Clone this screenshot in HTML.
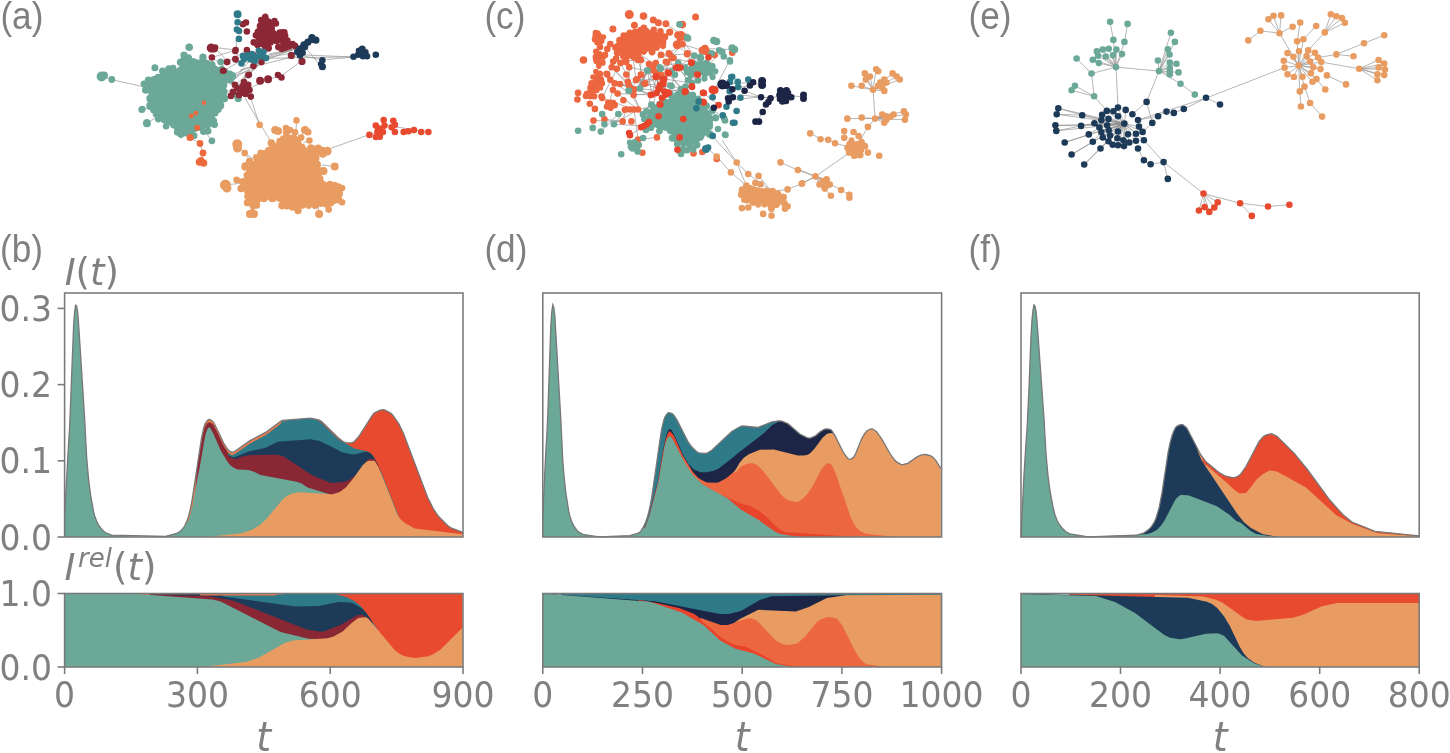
<!DOCTYPE html><html><head><meta charset="utf-8"><style>html,body{margin:0;padding:0;background:#fff;}svg{display:block}</style></head><body>
<svg width="1450" height="753" viewBox="0 0 1450 753">
<rect width="100%" height="100%" fill="#fff"/>
<g stroke="#8a8a8a" stroke-width="0.7" fill="none" opacity="0.9">
<path d="M114.0 80.2L140.3 86.0M329.6 148.7L367.8 135.2M245.0 98.0L260.0 124.0M260.0 124.0L270.0 140.0M326.4 59.5L353.5 57.1M305.0 55.0L353.0 57.0M211.9 57.5L235.6 50.1M223.6 70.7L246.9 57.4M240.0 64.0L300.0 48.0M250.0 66.0L305.0 45.0M236.0 40.0L237.0 55.0M222.0 80.0L250.0 70.0M235.0 100.0L247.0 75.0M233.0 90.0L262.0 62.0M280.0 77.0L300.0 62.0M215.0 47.5L236.0 50.0M227.0 62.0L247.0 50.0M230.0 76.0L256.0 64.0M265.0 58.0L297.0 52.0M238.0 96.0L246.0 72.0M266.3 58.3L354.5 56.8M269.3 53.8L299.2 47.8M245.4 89.7L281.3 74.7M228.0 92.0L262.0 60.0M230.0 85.0L250.0 60.0M226.0 100.0L258.0 64.0M232.0 80.0L270.0 56.0M240.0 70.0L300.0 55.0M236.0 62.0L292.0 50.0M215.0 47.5L226.0 60.0M211.9 57.5L224.0 66.0M300.0 55.0L322.0 60.0M303.0 45.0L321.0 66.0M259.6 124.9L250.0 96.0M237.3 144.2L250.0 160.0M226.0 185.0L242.0 183.0M244.7 153.1L255.0 160.0M305.0 130.1L300.0 137.0M309.4 140.5L303.0 143.0M334.7 166.5L322.0 165.0M323.5 171.0L318.0 168.0M342.1 188.1L332.0 186.0M342.1 202.2L334.0 198.0M319.1 214.1L318.0 205.0M328.7 209.6L322.0 203.0M249.9 214.1L252.0 205.0M296.5 120.4L296.0 131.0M101.6 76.5L111.8 79.5M141.8 109.4L150.0 108.0M146.9 123.3L155.0 118.0M211.9 140.8L206.0 133.0M190.1 137.5L200.0 143.5M200.0 143.5L203.0 153.0M203.0 153.0L201.0 161.0M197.3 127.7L190.1 137.5M369.4 134.9L377.0 132.0M384.0 125.0L428.4 132.0M1110.1 21.7L1113.4 39.9M1113.4 39.9L1116.0 67.1M1127.6 23.9L1124.4 41.9M1124.4 41.9L1116.0 67.1M1116.0 67.1L1096.8 51.4M1116.0 67.1L1102.8 49.6M1116.0 67.1L1108.7 48.8M1116.0 67.1L1116.4 49.6M1116.0 67.1L1122.0 54.1M1116.0 67.1L1113.0 55.2M1116.0 67.1L1105.8 56.5M1116.0 67.1L1098.1 55.8M1116.0 67.1L1092.8 59.8M1116.0 67.1L1098.8 63.1M1076.6 58.5L1091.5 73.5M1091.5 73.5L1116.0 67.1M1091.5 73.5L1094.1 96.3M1074.9 85.7L1094.1 96.3M1071.6 90.3L1094.1 96.3M1094.1 96.3L1106.8 110.9M1116.0 67.1L1118.0 107.6M1116.0 67.1L1159.0 71.1M1159.0 71.1L1170.9 32.8M1159.0 71.1L1174.9 41.9M1159.0 71.1L1167.8 49.2M1159.0 71.1L1169.6 54.5M1159.0 71.1L1157.9 60.5M1159.0 71.1L1169.8 62.5M1159.0 71.1L1176.5 63.8M1159.0 71.1L1169.8 68.4M1159.0 71.1L1169.8 74.4M1159.0 71.1L1178.5 72.4M1159.0 71.1L1180.5 83.7M1180.5 83.7L1194.8 94.6M1159.0 71.1L1146.6 101.9M1146.6 101.9L1132.4 114.3M1146.6 101.9L1152.3 122.9M1124.4 123.6L1058.3 108.3M1124.4 123.6L1056.7 114.3M1124.4 123.6L1082.2 115.2M1124.4 123.6L1055.4 125.3M1124.4 123.6L1056.3 130.9M1124.4 123.6L1081.1 125.9M1124.4 123.6L1064.7 142.5M1124.4 123.6L1088.8 134.4M1124.4 123.6L1092.8 141.7M1124.4 123.6L1071.6 154.5M1124.4 123.6L1100.5 148.5M1124.4 123.6L1084.2 164.5M1124.4 123.6L1094.4 123.2M1124.4 123.6L1102.1 114.9M1124.4 123.6L1106.8 110.9M1124.4 123.6L1113.4 111.2M1124.4 123.6L1118.0 107.6M1124.4 123.6L1125.7 109.9M1124.4 123.6L1118.0 116.2M1124.4 123.6L1108.5 118.9M1124.4 123.6L1101.4 120.2M1124.4 123.6L1107.2 125.3M1124.4 123.6L1099.4 127.5M1124.4 123.6L1108.7 130.2M1124.4 123.6L1118.0 131.5M1124.4 123.6L1101.4 132.2M1124.4 123.6L1110.1 135.5M1124.4 123.6L1102.8 137.5M1124.4 123.6L1117.4 138.2M1124.4 123.6L1123.4 140.2M1124.4 123.6L1128.0 134.2M1124.4 123.6L1108.5 141.2M1124.4 123.6L1112.7 144.8M1124.4 123.6L1118.0 145.2M1124.4 123.6L1124.0 146.1M1124.4 123.6L1129.3 142.5M1124.4 123.6L1136.0 140.8M1124.4 123.6L1136.0 133.8M1124.4 123.6L1142.6 131.9M1124.4 123.6L1143.9 140.2M1124.4 123.6L1139.0 126.6M1058.3 108.3L1082.2 115.2M1056.7 114.3L1082.2 115.2M1082.2 115.2L1101.4 120.2M1055.4 125.3L1081.1 125.9M1056.3 130.9L1081.1 125.9M1081.1 125.9L1094.4 123.2M1064.7 142.5L1088.8 134.4M1088.8 134.4L1099.4 127.5M1071.6 154.5L1092.8 141.7M1092.8 141.7L1101.4 132.2M1084.2 164.5L1100.5 148.5M1100.5 148.5L1108.5 141.2M1138.0 120.0L1158.1 116.2M1158.1 116.2L1166.5 111.6M1166.5 111.6L1173.8 112.9M1173.8 112.9L1183.8 109.0M1183.8 109.0L1206.6 97.9M1206.6 97.9L1220.0 104.5M1138.0 120.0L1206.6 97.9M1206.6 97.9L1284.6 67.6M1152.3 122.9L1142.6 131.9M1143.9 140.2L1163.6 162.1M1138.0 148.5L1143.9 160.3M1143.9 160.3L1150.6 164.3M1150.6 164.3L1163.6 162.1M1163.6 162.1L1167.8 178.9M1163.6 162.1L1203.5 193.6M1203.5 193.6L1217.7 202.3M1203.5 193.6L1214.3 207.5M1203.5 193.6L1204.6 207.1M1203.5 193.6L1198.9 210.5M1203.5 193.6L1209.3 211.9M1203.5 193.6L1240.1 203.2M1240.1 203.2L1268.0 206.5M1268.0 206.5L1289.4 204.8M1240.1 203.2L1251.8 215.9M1298.6 65.6L1287.5 53.1M1298.6 65.6L1299.0 51.2M1298.6 65.6L1308.2 50.4M1298.6 65.6L1314.9 52.8M1298.6 65.6L1306.6 56.0M1298.6 65.6L1318.1 57.6M1298.6 65.6L1293.4 56.8M1298.6 65.6L1283.8 60.8M1298.6 65.6L1321.3 62.1M1298.6 65.6L1310.1 61.6M1298.6 65.6L1284.6 67.6M1298.6 65.6L1313.3 67.2M1298.6 65.6L1320.5 69.1M1298.6 65.6L1310.9 73.2M1298.6 65.6L1287.5 74.3M1298.6 65.6L1293.9 77.0M1298.6 65.6L1302.5 76.7M1298.6 65.6L1316.5 79.1M1298.6 65.6L1312.5 81.8M1298.6 65.6L1304.5 86.6M1298.6 65.6L1299.8 91.4M1298.6 65.6L1297.1 41.3M1298.6 65.6L1303.4 39.3M1298.6 65.6L1279.5 33.2M1248.3 40.4L1260.4 30.8M1260.4 30.8L1279.5 33.2M1268.4 19.3L1279.5 33.2M1273.5 15.8L1279.5 33.2M1281.1 15.4L1279.5 33.2M1279.5 33.2L1292.6 26.8M1300.2 22.5L1297.1 41.3M1316.2 26.0L1303.4 39.3M1324.8 32.4L1308.2 50.4M1324.8 32.4L1330.8 14.2M1324.8 32.4L1336.4 16.2M1324.8 32.4L1342.0 18.1M1324.8 32.4L1344.9 22.8M1384.2 35.3L1364.0 43.2M1364.0 43.2L1336.4 54.4M1336.4 54.4L1318.1 57.6M1336.4 54.4L1353.5 56.3M1321.3 62.1L1359.2 68.7M1326.9 75.4L1346.0 84.4M1316.5 79.1L1325.3 89.5M1299.8 91.4L1300.9 106.5M1304.5 86.6L1310.1 103.0M1310.1 103.0L1322.1 116.6M1359.2 68.7L1378.6 60.0M1359.2 68.7L1384.2 63.6M1359.2 68.7L1385.0 69.5M1359.2 68.7L1378.6 67.5M1359.2 68.7L1384.2 75.1M1359.2 68.7L1377.4 74.3M1359.2 68.7L1377.4 80.2M716.7 156.6L730.9 172.4M730.9 172.4L746.4 185.6M736.7 162.6L748.3 174.0M748.3 174.0L771.5 191.3M736.7 162.6L746.4 185.6M771.5 191.3L787.6 189.4M787.6 189.4L801.8 183.6M801.8 183.6L815.3 176.5M780.5 162.4L797.9 170.1M797.9 170.1L815.3 176.5M815.3 176.5L855.5 148.5M855.5 148.5L835.0 143.3M835.0 143.3L828.8 139.2M828.8 139.2L820.6 139.2M820.6 139.2L810.3 133.0M855.5 148.5L867.9 126.9M867.9 126.9L875.1 118.6M875.1 118.6L873.0 89.8M875.1 118.6L847.3 118.6M736.7 162.6L712.0 136.0M716.7 156.6L705.0 146.0M722.0 140.0L736.7 162.6M758.6 175.9L771.5 191.3M722.3 84.4L753.1 82.3M744.6 90.8L761.1 97.2M761.1 97.2L770.6 98.2M770.6 98.2L783.9 95.0M783.9 95.0L803.5 97.0M768.5 101.9L762.7 112.0M762.7 112.0L757.3 121.6M732.0 89.0L762.0 83.0M740.0 95.0L770.0 98.0M730.0 100.0L760.0 97.0M873.0 89.8L864.8 73.4M873.0 89.8L876.1 69.3M873.0 89.8L869.9 76.5M873.0 89.8L865.8 79.5M873.0 89.8L851.4 85.7M873.0 89.8L861.7 85.7M873.0 89.8L880.2 82.6M873.0 89.8L884.3 79.5M873.0 89.8L886.4 82.6M873.0 89.8L882.3 87.8M873.0 89.8L884.3 90.9M873.0 89.8L892.6 73.4M873.0 89.8L896.7 76.5M873.0 89.8L899.8 79.5M875.1 118.6L882.3 114.5M875.1 118.6L886.4 119.7M875.1 118.6L884.3 122.7M875.1 118.6L890.5 116.6M875.1 118.6L893.6 114.5M875.1 118.6L903.9 111.4M875.1 118.6L905.9 114.5M875.1 118.6L904.9 119.7M875.1 118.6L861.7 117.6M815.4 176.2L822.6 181.4M815.4 176.2L819.5 184.5M815.4 176.2L826.7 179.3M815.4 176.2L829.8 184.5M815.4 176.2L824.7 188.6M815.4 176.2L841.1 190.0M815.4 176.2L802.1 183.4M815.4 176.2L800.0 170.0M841.1 190.0L849.4 194.7M824.7 188.6L830.9 195.8M633.6 95.1L629.2 86.3M659.9 104.5L685.6 91.6M629.2 86.3L611.7 67.3M678.0 67.2L688.0 80.2M684.5 37.0L665.9 23.7M633.6 95.1L650.8 66.8M664.2 91.6L639.8 88.5M620.0 84.0L640.0 88.3M673.5 58.0L697.2 74.6M687.1 54.2L677.3 44.8M613.9 124.3L626.0 109.5M622.7 121.4L604.4 119.2M657.1 74.4L647.5 71.0M691.8 86.4L691.3 62.9M622.7 121.4L626.0 109.5M602.2 98.0L634.0 109.5M668.8 53.4L674.9 74.8M707.0 52.0L691.7 62.6M659.7 88.5L656.3 76.8M647.4 70.2L662.0 98.0M633.6 95.1L614.6 83.4M656.3 76.8L652.0 94.7M622.7 121.4L593.5 120.6M679.2 68.1L691.8 86.4M640.9 60.0L613.2 61.5M641.3 74.8L640.2 88.5M636.0 80.0L632.2 49.8M656.6 71.8L644.4 84.0M665.0 95.0L660.0 85.0M638.0 109.5L660.4 104.6M668.8 53.4L682.6 44.3M650.8 94.9L644.0 126.0M692.0 83.0L664.3 79.0M668.8 73.3L645.3 83.4M647.0 70.6L656.6 71.8M692.0 83.0L684.9 92.1M665.0 95.0L650.8 66.8M661.2 55.0L691.2 62.4M687.1 54.2L660.9 54.9M662.7 79.4L636.0 80.0M649.0 64.1L659.7 67.2M684.8 91.4L658.5 89.2M678.2 62.9L659.7 67.2M645.9 130.0L660.4 104.6M660.0 85.0L644.4 84.0M646.8 124.3L633.6 95.1M668.7 92.9L678.0 67.2M630.0 135.2L646.8 124.3M685.5 86.5L668.7 92.9M613.0 90.0L608.8 103.8M600.8 131.6L618.3 114.0M650.8 94.9L658.5 89.2M703.0 92.9L718.6 105.1M684.8 91.4L697.2 74.6M629.1 90.8L642.9 114.4M660.0 85.0L665.0 95.0M657.1 74.4L659.9 104.5M653.5 65.6L665.9 92.1M620.5 63.0L634.3 89.2M655.8 76.9L680.5 67.5M640.9 60.0L640.2 88.5M638.0 109.5L613.9 124.3M653.3 70.6L680.5 67.5M679.2 68.1L671.9 71.8M685.6 91.6L703.7 102.4M668.8 73.3L659.7 88.5M665.9 61.8L688.0 38.4M697.8 74.8L711.6 53.4M620.0 84.0L652.0 94.7M620.0 84.0L634.3 89.2M634.3 89.2L611.7 67.3M632.2 49.8L650.8 66.8M665.9 92.1L647.4 70.2M638.0 60.0L645.3 83.4M691.2 62.4L697.8 74.8M629.2 67.3L647.5 71.0M640.0 88.3L656.6 71.8M647.4 70.2L633.6 95.1M678.0 67.2L697.2 74.6M629.2 86.3L629.2 67.3M639.8 88.5L614.6 83.4M644.4 84.0L658.4 88.3M645.3 83.4L627.8 81.9M705.0 48.5L691.2 62.4M634.3 89.2L652.0 94.7M607.3 74.6L611.7 67.3M697.2 74.6L722.3 51.9M638.0 109.5L613.0 90.0M639.8 88.5L647.5 71.0M656.6 93.1L633.6 95.1M677.5 68.0L662.7 79.4M658.4 88.3L671.0 85.8M692.0 83.0L691.2 62.4M682.6 44.3L697.2 74.6M616.8 68.8L602.2 98.0M667.8 72.5L684.8 91.4M651.2 95.0L617.6 93.6M655.8 76.9L652.6 65.8M667.2 62.2L656.3 76.8M698.0 80.5L678.2 62.9M676.0 67.5L660.2 68.7M694.3 55.5L680.0 37.5M669.7 54.2L663.4 83.9M652.0 94.7L647.5 71.0M691.7 62.6L667.8 72.5M681.0 89.0L667.8 72.5M646.8 124.3L656.6 93.1M650.8 66.8L656.3 76.8M677.5 68.0L691.7 62.6M629.1 90.8L641.3 74.8M657.0 137.4L638.0 139.6M724.2 118.4L703.2 101.9M650.8 66.8L633.6 95.1M657.1 74.4L668.7 92.9M634.0 109.5L638.0 139.6M632.2 49.8L659.7 67.2M684.9 92.1L663.4 80.1M682.6 44.3L711.6 53.4M659.7 67.2L665.8 94.7M694.3 55.5L671.9 71.8M613.9 124.3L644.0 126.0M661.2 55.0L652.6 65.8M714.0 89.9L729.9 60.3M705.0 48.5L734.5 49.6"/>
</g>
<path fill="#6BA898" d="M183.9 57.9L193.7 59.5L202.2 59.4L213.5 63.5L217.8 67.6L226.5 71.7L235.1 75.2L233.0 79.0L226.1 84.6L224.6 91.6L224.6 98.6L221.8 105.7L216.0 113.9L213.5 121.1L209.3 127.0L200.9 129.7L193.8 132.7L185.3 135.7L176.8 132.8L172.6 126.9L162.7 121.2L155.6 114.2L149.8 105.8L148.4 98.7L148.4 90.2L145.3 84.5L148.3 80.2L157.2 77.6L162.9 71.4L168.7 69.5L174.5 70.4L181.3 64.7Z"/>
<path fill="#6BA898" d="M180.8 58.6a3.3 3.3 0 1 0 6.5 0a3.3 3.3 0 1 0 -6.5 0M185.5 58.1a3.3 3.3 0 1 0 6.5 0a3.3 3.3 0 1 0 -6.5 0M190.0 62.1a3.5 3.5 0 1 0 6.9 0a3.5 3.5 0 1 0 -6.9 0M199.3 57.3a3.7 3.7 0 1 0 7.4 0a3.7 3.7 0 1 0 -7.4 0M203.8 62.9a3.2 3.2 0 1 0 6.4 0a3.2 3.2 0 1 0 -6.4 0M208.8 65.1a3.4 3.4 0 1 0 6.7 0a3.4 3.4 0 1 0 -6.7 0M211.8 69.7a3.7 3.7 0 1 0 7.5 0a3.7 3.7 0 1 0 -7.5 0M218.2 69.9a3.6 3.6 0 1 0 7.1 0a3.6 3.6 0 1 0 -7.1 0M221.9 72.3a3.5 3.5 0 1 0 7.1 0a3.5 3.5 0 1 0 -7.1 0M226.5 73.9a3.3 3.3 0 1 0 6.7 0a3.3 3.3 0 1 0 -6.7 0M229.4 76.1a3.4 3.4 0 1 0 6.7 0a3.4 3.4 0 1 0 -6.7 0M226.6 79.9a3.6 3.6 0 1 0 7.2 0a3.6 3.6 0 1 0 -7.2 0M219.9 85.2a3.7 3.7 0 1 0 7.4 0a3.7 3.7 0 1 0 -7.4 0M220.4 91.7a3.6 3.6 0 1 0 7.3 0a3.6 3.6 0 1 0 -7.3 0M220.7 98.6a3.8 3.8 0 1 0 7.6 0a3.8 3.8 0 1 0 -7.6 0M217.3 105.3a3.5 3.5 0 1 0 6.9 0a3.5 3.5 0 1 0 -6.9 0M214.4 109.3a3.7 3.7 0 1 0 7.4 0a3.7 3.7 0 1 0 -7.4 0M212.0 113.3a3.2 3.2 0 1 0 6.5 0a3.2 3.2 0 1 0 -6.5 0M209.7 121.0a3.7 3.7 0 1 0 7.4 0a3.7 3.7 0 1 0 -7.4 0M204.4 124.6a3.6 3.6 0 1 0 7.2 0a3.6 3.6 0 1 0 -7.2 0M196.4 126.9a3.7 3.7 0 1 0 7.4 0a3.7 3.7 0 1 0 -7.4 0M190.7 135.7a3.4 3.4 0 1 0 6.8 0a3.4 3.4 0 1 0 -6.8 0M186.2 131.0a3.4 3.4 0 1 0 6.8 0a3.4 3.4 0 1 0 -6.8 0M182.1 133.1a3.5 3.5 0 1 0 7.0 0a3.5 3.5 0 1 0 -7.0 0M177.8 134.5a3.2 3.2 0 1 0 6.3 0a3.2 3.2 0 1 0 -6.3 0M173.9 132.0a3.2 3.2 0 1 0 6.3 0a3.2 3.2 0 1 0 -6.3 0M170.0 124.7a3.8 3.8 0 1 0 7.6 0a3.8 3.8 0 1 0 -7.6 0M162.8 126.2a3.3 3.3 0 1 0 6.6 0a3.3 3.3 0 1 0 -6.6 0M160.6 119.7a3.6 3.6 0 1 0 7.2 0a3.6 3.6 0 1 0 -7.2 0M154.9 118.5a3.4 3.4 0 1 0 6.7 0a3.4 3.4 0 1 0 -6.7 0M152.7 113.9a3.5 3.5 0 1 0 7.0 0a3.5 3.5 0 1 0 -7.0 0M150.2 109.5a3.8 3.8 0 1 0 7.5 0a3.8 3.8 0 1 0 -7.5 0M146.3 105.8a3.7 3.7 0 1 0 7.3 0a3.7 3.7 0 1 0 -7.3 0M146.4 98.5a3.3 3.3 0 1 0 6.5 0a3.3 3.3 0 1 0 -6.5 0M142.0 90.0a3.8 3.8 0 1 0 7.6 0a3.8 3.8 0 1 0 -7.6 0M140.6 84.2a3.2 3.2 0 1 0 6.3 0a3.2 3.2 0 1 0 -6.3 0M144.7 80.3a3.7 3.7 0 1 0 7.4 0a3.7 3.7 0 1 0 -7.4 0M150.6 79.3a3.3 3.3 0 1 0 6.6 0a3.3 3.3 0 1 0 -6.6 0M154.5 77.9a3.6 3.6 0 1 0 7.1 0a3.6 3.6 0 1 0 -7.1 0M159.0 71.0a3.5 3.5 0 1 0 7.0 0a3.5 3.5 0 1 0 -7.0 0M165.2 69.4a3.5 3.5 0 1 0 6.9 0a3.5 3.5 0 1 0 -6.9 0M169.6 68.3a3.4 3.4 0 1 0 6.9 0a3.4 3.4 0 1 0 -6.9 0M176.8 62.2a3.8 3.8 0 1 0 7.6 0a3.8 3.8 0 1 0 -7.6 0M96.6 76.5a5.0 5.0 0 1 0 10.0 0a5.0 5.0 0 1 0 -10.0 0M100.0 75.5a4.0 4.0 0 1 0 8.0 0a4.0 4.0 0 1 0 -8.0 0M108.4 79.5a3.4 3.4 0 1 0 6.8 0a3.4 3.4 0 1 0 -6.8 0M185.4 47.3a3.8 3.8 0 1 0 7.6 0a3.8 3.8 0 1 0 -7.6 0M180.4 55.0a3.6 3.6 0 1 0 7.2 0a3.6 3.6 0 1 0 -7.2 0M217.3 61.9a3.4 3.4 0 1 0 6.8 0a3.4 3.4 0 1 0 -6.8 0M151.4 67.8a3.5 3.5 0 1 0 7.0 0a3.5 3.5 0 1 0 -7.0 0M138.3 109.4a3.5 3.5 0 1 0 7.0 0a3.5 3.5 0 1 0 -7.0 0M142.9 123.3a4.0 4.0 0 1 0 8.0 0a4.0 4.0 0 1 0 -8.0 0M208.5 140.8a3.4 3.4 0 1 0 6.8 0a3.4 3.4 0 1 0 -6.8 0M234.6 98.4a3.6 3.6 0 1 0 7.2 0a3.6 3.6 0 1 0 -7.2 0M200.0 131.5a3.6 3.6 0 1 0 7.2 0a3.6 3.6 0 1 0 -7.2 0M204.5 131.0a3.5 3.5 0 1 0 7.0 0a3.5 3.5 0 1 0 -7.0 0M233.1 95.0a3.4 3.4 0 1 0 6.8 0a3.4 3.4 0 1 0 -6.8 0M138.9 109.1a3.4 3.4 0 1 0 6.8 0a3.4 3.4 0 1 0 -6.8 0M143.2 122.5a3.6 3.6 0 1 0 7.2 0a3.6 3.6 0 1 0 -7.2 0M211.0 124.5a3.5 3.5 0 1 0 7.0 0a3.5 3.5 0 1 0 -7.0 0"/>
<path fill="#EE6A3C" d="M201.7 102.8a2.2 2.2 0 1 0 4.4 0a2.2 2.2 0 1 0 -4.4 0M193.4 113.1a2.4 2.4 0 1 0 4.8 0a2.4 2.4 0 1 0 -4.8 0M189.0 116.0a2.4 2.4 0 1 0 4.8 0a2.4 2.4 0 1 0 -4.8 0M194.3 127.7a3.0 3.0 0 1 0 6.0 0a3.0 3.0 0 1 0 -6.0 0M186.5 137.5a3.6 3.6 0 1 0 7.2 0a3.6 3.6 0 1 0 -7.2 0M196.6 143.5a3.4 3.4 0 1 0 6.8 0a3.4 3.4 0 1 0 -6.8 0M199.6 153.0a3.4 3.4 0 1 0 6.8 0a3.4 3.4 0 1 0 -6.8 0M195.7 162.0a3.8 3.8 0 1 0 7.6 0a3.8 3.8 0 1 0 -7.6 0M199.7 163.0a3.8 3.8 0 1 0 7.6 0a3.8 3.8 0 1 0 -7.6 0M197.6 160.5a3.4 3.4 0 1 0 6.8 0a3.4 3.4 0 1 0 -6.8 0"/>
<path fill="#E99C61" d="M271.8 143.8L280.0 141.9L286.8 135.4L295.1 133.9L300.4 139.9L303.0 145.6L309.7 149.7L316.8 149.4L325.3 152.6L316.5 157.8L317.6 164.6L321.9 171.3L321.9 179.3L328.0 183.5L338.4 186.5L340.2 200.7L331.5 203.3L319.8 202.9L308.7 205.3L297.8 209.5L286.9 206.5L278.8 199.4L266.4 197.1L257.4 204.5L253.0 211.9L247.5 196.3L243.3 187.9L244.9 175.3L247.8 167.0L256.6 157.4L259.2 151.8L266.4 149.4Z"/>
<path fill="#E99C61" d="M267.5 143.1a3.8 3.8 0 1 0 7.6 0a3.8 3.8 0 1 0 -7.6 0M276.2 141.6a3.7 3.7 0 1 0 7.5 0a3.7 3.7 0 1 0 -7.5 0M280.0 138.8a3.4 3.4 0 1 0 6.9 0a3.4 3.4 0 1 0 -6.9 0M282.8 132.6a3.6 3.6 0 1 0 7.2 0a3.6 3.6 0 1 0 -7.2 0M292.0 132.2a3.2 3.2 0 1 0 6.4 0a3.2 3.2 0 1 0 -6.4 0M297.6 137.6a3.4 3.4 0 1 0 6.9 0a3.4 3.4 0 1 0 -6.9 0M299.1 147.3a3.2 3.2 0 1 0 6.5 0a3.2 3.2 0 1 0 -6.5 0M307.0 148.2a3.8 3.8 0 1 0 7.7 0a3.8 3.8 0 1 0 -7.7 0M314.5 148.1a3.7 3.7 0 1 0 7.4 0a3.7 3.7 0 1 0 -7.4 0M319.3 149.9a3.2 3.2 0 1 0 6.4 0a3.2 3.2 0 1 0 -6.4 0M323.8 151.2a3.8 3.8 0 1 0 7.5 0a3.8 3.8 0 1 0 -7.5 0M319.1 153.9a3.8 3.8 0 1 0 7.6 0a3.8 3.8 0 1 0 -7.6 0M312.9 158.0a3.3 3.3 0 1 0 6.6 0a3.3 3.3 0 1 0 -6.6 0M313.4 164.7a3.8 3.8 0 1 0 7.5 0a3.8 3.8 0 1 0 -7.5 0M317.6 171.3a3.7 3.7 0 1 0 7.4 0a3.7 3.7 0 1 0 -7.4 0M315.9 178.9a3.8 3.8 0 1 0 7.6 0a3.8 3.8 0 1 0 -7.6 0M326.6 184.0a3.2 3.2 0 1 0 6.5 0a3.2 3.2 0 1 0 -6.5 0M331.0 185.4a3.6 3.6 0 1 0 7.2 0a3.6 3.6 0 1 0 -7.2 0M335.3 186.5a3.2 3.2 0 1 0 6.4 0a3.2 3.2 0 1 0 -6.4 0M336.4 193.7a3.3 3.3 0 1 0 6.5 0a3.3 3.3 0 1 0 -6.5 0M334.7 199.8a3.8 3.8 0 1 0 7.6 0a3.8 3.8 0 1 0 -7.6 0M330.7 200.8a3.2 3.2 0 1 0 6.5 0a3.2 3.2 0 1 0 -6.5 0M327.2 202.8a3.6 3.6 0 1 0 7.2 0a3.6 3.6 0 1 0 -7.2 0M322.0 203.2a3.8 3.8 0 1 0 7.5 0a3.8 3.8 0 1 0 -7.5 0M317.5 203.8a3.2 3.2 0 1 0 6.4 0a3.2 3.2 0 1 0 -6.4 0M311.7 205.4a3.5 3.5 0 1 0 7.1 0a3.5 3.5 0 1 0 -7.1 0M305.6 205.3a3.2 3.2 0 1 0 6.3 0a3.2 3.2 0 1 0 -6.3 0M299.3 205.5a3.3 3.3 0 1 0 6.6 0a3.3 3.3 0 1 0 -6.6 0M294.3 210.6a3.7 3.7 0 1 0 7.4 0a3.7 3.7 0 1 0 -7.4 0M289.2 207.6a3.2 3.2 0 1 0 6.4 0a3.2 3.2 0 1 0 -6.4 0M283.5 205.9a3.5 3.5 0 1 0 7.0 0a3.5 3.5 0 1 0 -7.0 0M278.2 205.6a3.8 3.8 0 1 0 7.6 0a3.8 3.8 0 1 0 -7.6 0M275.9 198.4a3.4 3.4 0 1 0 6.9 0a3.4 3.4 0 1 0 -6.9 0M268.6 198.5a3.8 3.8 0 1 0 7.7 0a3.8 3.8 0 1 0 -7.7 0M262.4 197.8a3.2 3.2 0 1 0 6.4 0a3.2 3.2 0 1 0 -6.4 0M260.7 199.0a3.2 3.2 0 1 0 6.5 0a3.2 3.2 0 1 0 -6.5 0M253.0 205.2a3.6 3.6 0 1 0 7.2 0a3.6 3.6 0 1 0 -7.2 0M248.1 213.0a3.7 3.7 0 1 0 7.4 0a3.7 3.7 0 1 0 -7.4 0M249.5 205.2a3.5 3.5 0 1 0 6.9 0a3.5 3.5 0 1 0 -6.9 0M243.8 202.7a3.6 3.6 0 1 0 7.3 0a3.6 3.6 0 1 0 -7.3 0M244.3 196.2a3.4 3.4 0 1 0 6.7 0a3.4 3.4 0 1 0 -6.7 0M244.0 191.2a3.7 3.7 0 1 0 7.4 0a3.7 3.7 0 1 0 -7.4 0M237.4 188.5a3.7 3.7 0 1 0 7.5 0a3.7 3.7 0 1 0 -7.5 0M239.0 181.8a3.8 3.8 0 1 0 7.6 0a3.8 3.8 0 1 0 -7.6 0M243.5 175.2a3.6 3.6 0 1 0 7.2 0a3.6 3.6 0 1 0 -7.2 0M241.4 166.5a3.7 3.7 0 1 0 7.3 0a3.7 3.7 0 1 0 -7.3 0M245.8 161.4a3.7 3.7 0 1 0 7.4 0a3.7 3.7 0 1 0 -7.4 0M253.0 157.3a3.2 3.2 0 1 0 6.4 0a3.2 3.2 0 1 0 -6.4 0M257.4 152.9a3.4 3.4 0 1 0 6.8 0a3.4 3.4 0 1 0 -6.8 0M264.8 151.1a3.4 3.4 0 1 0 6.7 0a3.4 3.4 0 1 0 -6.7 0M293.2 120.4a3.3 3.3 0 1 0 6.6 0a3.3 3.3 0 1 0 -6.6 0M256.3 124.9a3.3 3.3 0 1 0 6.6 0a3.3 3.3 0 1 0 -6.6 0M271.2 130.1a4.0 4.0 0 1 0 8.0 0a4.0 4.0 0 1 0 -8.0 0M274.0 131.0a4.0 4.0 0 1 0 8.0 0a4.0 4.0 0 1 0 -8.0 0M232.3 144.2a5.0 5.0 0 1 0 10.0 0a5.0 5.0 0 1 0 -10.0 0M233.0 148.0a4.5 4.5 0 1 0 9.0 0a4.5 4.5 0 1 0 -9.0 0M241.4 153.1a3.3 3.3 0 1 0 6.6 0a3.3 3.3 0 1 0 -6.6 0M301.0 130.1a4.0 4.0 0 1 0 8.0 0a4.0 4.0 0 1 0 -8.0 0M304.4 132.0a3.6 3.6 0 1 0 7.2 0a3.6 3.6 0 1 0 -7.2 0M306.1 140.5a3.3 3.3 0 1 0 6.6 0a3.3 3.3 0 1 0 -6.6 0M330.7 166.5a4.0 4.0 0 1 0 8.0 0a4.0 4.0 0 1 0 -8.0 0M319.5 171.0a4.0 4.0 0 1 0 8.0 0a4.0 4.0 0 1 0 -8.0 0M219.9 185.1a5.5 5.5 0 1 0 11.0 0a5.5 5.5 0 1 0 -11.0 0M222.5 188.0a4.5 4.5 0 1 0 9.0 0a4.5 4.5 0 1 0 -9.0 0M233.3 179.9a3.3 3.3 0 1 0 6.6 0a3.3 3.3 0 1 0 -6.6 0M245.9 214.1a4.0 4.0 0 1 0 8.0 0a4.0 4.0 0 1 0 -8.0 0M250.0 214.0a4.0 4.0 0 1 0 8.0 0a4.0 4.0 0 1 0 -8.0 0M315.1 214.1a4.0 4.0 0 1 0 8.0 0a4.0 4.0 0 1 0 -8.0 0M325.4 209.6a3.3 3.3 0 1 0 6.6 0a3.3 3.3 0 1 0 -6.6 0M338.8 188.1a3.3 3.3 0 1 0 6.6 0a3.3 3.3 0 1 0 -6.6 0M338.8 202.2a3.3 3.3 0 1 0 6.6 0a3.3 3.3 0 1 0 -6.6 0M282.7 128.0a3.3 3.3 0 1 0 6.6 0a3.3 3.3 0 1 0 -6.6 0M286.7 130.0a3.3 3.3 0 1 0 6.6 0a3.3 3.3 0 1 0 -6.6 0M324.4 151.0a3.6 3.6 0 1 0 7.2 0a3.6 3.6 0 1 0 -7.2 0M311.7 149.0a3.3 3.3 0 1 0 6.6 0a3.3 3.3 0 1 0 -6.6 0"/>
<path fill="#8C2836" d="M260.8 18.8L265.3 18.5L268.7 20.8L274.1 21.5L275.4 24.1L273.4 27.3L269.6 28.9L268.4 31.2L270.5 33.3L273.1 35.2L274.7 39.2L271.8 40.9L271.1 44.3L268.3 48.2L265.3 45.2L262.0 43.1L258.5 43.4L256.1 40.4L254.4 35.5L256.8 32.2L260.6 29.4L259.4 25.3L260.6 22.3ZM279.0 31.5L282.0 31.0L284.0 33.0L284.8 35.6L285.1 38.9L284.0 41.8L281.7 40.5L281.3 36.8L279.9 35.0Z"/>
<path fill="#8C2836" d="M257.9 20.1a3.4 3.4 0 1 0 6.8 0a3.4 3.4 0 1 0 -6.8 0M261.9 17.6a3.4 3.4 0 1 0 6.7 0a3.4 3.4 0 1 0 -6.7 0M265.4 21.5a3.1 3.1 0 1 0 6.3 0a3.1 3.1 0 1 0 -6.3 0M271.4 20.9a3.1 3.1 0 1 0 6.3 0a3.1 3.1 0 1 0 -6.3 0M272.8 23.5a3.2 3.2 0 1 0 6.4 0a3.2 3.2 0 1 0 -6.4 0M268.8 28.4a3.1 3.1 0 1 0 6.2 0a3.1 3.1 0 1 0 -6.2 0M265.9 29.1a3.5 3.5 0 1 0 7.1 0a3.5 3.5 0 1 0 -7.1 0M263.2 32.4a3.1 3.1 0 1 0 6.2 0a3.1 3.1 0 1 0 -6.2 0M270.1 33.8a3.4 3.4 0 1 0 6.7 0a3.4 3.4 0 1 0 -6.7 0M271.3 35.7a3.3 3.3 0 1 0 6.6 0a3.3 3.3 0 1 0 -6.6 0M272.6 40.4a3.7 3.7 0 1 0 7.4 0a3.7 3.7 0 1 0 -7.4 0M267.4 39.1a3.2 3.2 0 1 0 6.4 0a3.2 3.2 0 1 0 -6.4 0M266.7 42.3a3.5 3.5 0 1 0 7.1 0a3.5 3.5 0 1 0 -7.1 0M264.6 48.1a3.7 3.7 0 1 0 7.4 0a3.7 3.7 0 1 0 -7.4 0M261.7 46.0a3.6 3.6 0 1 0 7.1 0a3.6 3.6 0 1 0 -7.1 0M258.5 43.7a3.3 3.3 0 1 0 6.6 0a3.3 3.3 0 1 0 -6.6 0M254.2 44.9a3.2 3.2 0 1 0 6.5 0a3.2 3.2 0 1 0 -6.5 0M250.4 42.3a3.4 3.4 0 1 0 6.8 0a3.4 3.4 0 1 0 -6.8 0M252.6 35.2a3.2 3.2 0 1 0 6.4 0a3.2 3.2 0 1 0 -6.4 0M254.6 32.2a3.4 3.4 0 1 0 6.7 0a3.4 3.4 0 1 0 -6.7 0M257.1 29.2a3.2 3.2 0 1 0 6.4 0a3.2 3.2 0 1 0 -6.4 0M256.8 26.1a3.3 3.3 0 1 0 6.5 0a3.3 3.3 0 1 0 -6.5 0M258.2 24.4a3.5 3.5 0 1 0 7.1 0a3.5 3.5 0 1 0 -7.1 0M276.4 32.7a3.4 3.4 0 1 0 6.9 0a3.4 3.4 0 1 0 -6.9 0M278.9 32.2a3.2 3.2 0 1 0 6.4 0a3.2 3.2 0 1 0 -6.4 0M280.9 32.4a3.4 3.4 0 1 0 6.8 0a3.4 3.4 0 1 0 -6.8 0M282.0 35.5a3.2 3.2 0 1 0 6.4 0a3.2 3.2 0 1 0 -6.4 0M283.2 40.8a3.7 3.7 0 1 0 7.5 0a3.7 3.7 0 1 0 -7.5 0M280.6 43.0a3.7 3.7 0 1 0 7.4 0a3.7 3.7 0 1 0 -7.4 0M278.5 40.9a3.1 3.1 0 1 0 6.2 0a3.1 3.1 0 1 0 -6.2 0M277.0 37.4a3.6 3.6 0 1 0 7.2 0a3.6 3.6 0 1 0 -7.2 0M278.6 35.9a3.4 3.4 0 1 0 6.8 0a3.4 3.4 0 1 0 -6.8 0M275.0 47.1a3.3 3.3 0 1 0 6.6 0a3.3 3.3 0 1 0 -6.6 0M278.5 48.9a3.3 3.3 0 1 0 6.6 0a3.3 3.3 0 1 0 -6.6 0M282.1 47.7a3.3 3.3 0 1 0 6.6 0a3.3 3.3 0 1 0 -6.6 0M285.7 46.5a3.3 3.3 0 1 0 6.6 0a3.3 3.3 0 1 0 -6.6 0M289.3 44.1a3.3 3.3 0 1 0 6.6 0a3.3 3.3 0 1 0 -6.6 0M291.7 45.9a3.3 3.3 0 1 0 6.6 0a3.3 3.3 0 1 0 -6.6 0M239.6 24.2a3.3 3.3 0 1 0 6.6 0a3.3 3.3 0 1 0 -6.6 0M242.7 22.5a3.3 3.3 0 1 0 6.6 0a3.3 3.3 0 1 0 -6.6 0M243.6 31.5a3.3 3.3 0 1 0 6.6 0a3.3 3.3 0 1 0 -6.6 0M232.3 50.1a3.3 3.3 0 1 0 6.6 0a3.3 3.3 0 1 0 -6.6 0M243.6 50.1a3.3 3.3 0 1 0 6.6 0a3.3 3.3 0 1 0 -6.6 0M232.3 59.4a3.3 3.3 0 1 0 6.6 0a3.3 3.3 0 1 0 -6.6 0M223.7 62.1a3.3 3.3 0 1 0 6.6 0a3.3 3.3 0 1 0 -6.6 0M219.7 70.7a3.3 3.3 0 1 0 6.6 0a3.3 3.3 0 1 0 -6.6 0M250.2 55.4a3.3 3.3 0 1 0 6.6 0a3.3 3.3 0 1 0 -6.6 0M258.2 62.1a3.3 3.3 0 1 0 6.6 0a3.3 3.3 0 1 0 -6.6 0M250.2 66.1a3.3 3.3 0 1 0 6.6 0a3.3 3.3 0 1 0 -6.6 0M245.6 74.7a3.3 3.3 0 1 0 6.6 0a3.3 3.3 0 1 0 -6.6 0M256.1 80.7a4.0 4.0 0 1 0 8.0 0a4.0 4.0 0 1 0 -8.0 0M264.1 79.3a4.0 4.0 0 1 0 8.0 0a4.0 4.0 0 1 0 -8.0 0M274.7 75.0a3.3 3.3 0 1 0 6.6 0a3.3 3.3 0 1 0 -6.6 0M278.2 77.5a3.3 3.3 0 1 0 6.6 0a3.3 3.3 0 1 0 -6.6 0M287.7 55.4a3.6 3.6 0 1 0 7.2 0a3.6 3.6 0 1 0 -7.2 0M298.4 61.4a3.6 3.6 0 1 0 7.2 0a3.6 3.6 0 1 0 -7.2 0M211.7 47.5a3.3 3.3 0 1 0 6.6 0a3.3 3.3 0 1 0 -6.6 0M206.7 48.0a4.5 4.5 0 1 0 9.0 0a4.5 4.5 0 1 0 -9.0 0M210.0 48.5a4.0 4.0 0 1 0 8.0 0a4.0 4.0 0 1 0 -8.0 0M208.6 57.5a3.3 3.3 0 1 0 6.6 0a3.3 3.3 0 1 0 -6.6 0M220.3 70.7a3.3 3.3 0 1 0 6.6 0a3.3 3.3 0 1 0 -6.6 0M223.9 61.9a3.3 3.3 0 1 0 6.6 0a3.3 3.3 0 1 0 -6.6 0M232.0 59.0a3.3 3.3 0 1 0 6.6 0a3.3 3.3 0 1 0 -6.6 0M232.0 51.0a3.3 3.3 0 1 0 6.6 0a3.3 3.3 0 1 0 -6.6 0M243.7 50.2a3.3 3.3 0 1 0 6.6 0a3.3 3.3 0 1 0 -6.6 0M245.1 75.1a3.3 3.3 0 1 0 6.6 0a3.3 3.3 0 1 0 -6.6 0M231.6 84.7a3.3 3.3 0 1 0 6.6 0a3.3 3.3 0 1 0 -6.6 0M238.2 90.0a3.3 3.3 0 1 0 6.6 0a3.3 3.3 0 1 0 -6.6 0M244.9 84.7a3.3 3.3 0 1 0 6.6 0a3.3 3.3 0 1 0 -6.6 0M246.2 90.0a3.3 3.3 0 1 0 6.6 0a3.3 3.3 0 1 0 -6.6 0M242.2 94.0a3.3 3.3 0 1 0 6.6 0a3.3 3.3 0 1 0 -6.6 0M235.6 95.3a3.3 3.3 0 1 0 6.6 0a3.3 3.3 0 1 0 -6.6 0M227.6 95.9a3.3 3.3 0 1 0 6.6 0a3.3 3.3 0 1 0 -6.6 0M247.5 96.6a3.3 3.3 0 1 0 6.6 0a3.3 3.3 0 1 0 -6.6 0M239.6 86.0a3.3 3.3 0 1 0 6.6 0a3.3 3.3 0 1 0 -6.6 0M233.7 88.0a3.3 3.3 0 1 0 6.6 0a3.3 3.3 0 1 0 -6.6 0M240.7 82.0a3.3 3.3 0 1 0 6.6 0a3.3 3.3 0 1 0 -6.6 0M242.7 88.0a3.3 3.3 0 1 0 6.6 0a3.3 3.3 0 1 0 -6.6 0M236.7 93.0a3.3 3.3 0 1 0 6.6 0a3.3 3.3 0 1 0 -6.6 0M229.7 92.0a3.3 3.3 0 1 0 6.6 0a3.3 3.3 0 1 0 -6.6 0"/>
<path fill="#2E7A89" d="M233.6 14.3a4.0 4.0 0 1 0 8.0 0a4.0 4.0 0 1 0 -8.0 0M234.3 22.3a3.3 3.3 0 1 0 6.6 0a3.3 3.3 0 1 0 -6.6 0M233.6 29.6a3.3 3.3 0 1 0 6.6 0a3.3 3.3 0 1 0 -6.6 0M235.7 31.0a3.3 3.3 0 1 0 6.6 0a3.3 3.3 0 1 0 -6.6 0M235.6 38.9a3.3 3.3 0 1 0 6.6 0a3.3 3.3 0 1 0 -6.6 0M239.6 56.1a3.3 3.3 0 1 0 6.6 0a3.3 3.3 0 1 0 -6.6 0M243.6 57.4a3.3 3.3 0 1 0 6.6 0a3.3 3.3 0 1 0 -6.6 0M238.2 63.4a3.3 3.3 0 1 0 6.6 0a3.3 3.3 0 1 0 -6.6 0M255.5 50.8a3.3 3.3 0 1 0 6.6 0a3.3 3.3 0 1 0 -6.6 0M260.2 52.1a3.3 3.3 0 1 0 6.6 0a3.3 3.3 0 1 0 -6.6 0M262.8 58.1a3.3 3.3 0 1 0 6.6 0a3.3 3.3 0 1 0 -6.6 0M251.5 60.8a3.3 3.3 0 1 0 6.6 0a3.3 3.3 0 1 0 -6.6 0M247.5 59.4a3.3 3.3 0 1 0 6.6 0a3.3 3.3 0 1 0 -6.6 0M258.2 56.1a3.3 3.3 0 1 0 6.6 0a3.3 3.3 0 1 0 -6.6 0M243.6 55.4a3.3 3.3 0 1 0 6.6 0a3.3 3.3 0 1 0 -6.6 0M253.7 57.0a3.3 3.3 0 1 0 6.6 0a3.3 3.3 0 1 0 -6.6 0M248.7 54.0a3.3 3.3 0 1 0 6.6 0a3.3 3.3 0 1 0 -6.6 0M240.7 59.0a3.3 3.3 0 1 0 6.6 0a3.3 3.3 0 1 0 -6.6 0"/>
<path fill="#1D3B58" d="M308.3 37.5a3.6 3.6 0 1 0 7.2 0a3.6 3.6 0 1 0 -7.2 0M312.3 40.2a3.6 3.6 0 1 0 7.2 0a3.6 3.6 0 1 0 -7.2 0M309.4 39.5a3.6 3.6 0 1 0 7.2 0a3.6 3.6 0 1 0 -7.2 0M304.3 42.2a3.6 3.6 0 1 0 7.2 0a3.6 3.6 0 1 0 -7.2 0M300.3 44.8a3.6 3.6 0 1 0 7.2 0a3.6 3.6 0 1 0 -7.2 0M296.4 48.8a3.6 3.6 0 1 0 7.2 0a3.6 3.6 0 1 0 -7.2 0M294.0 52.1a3.3 3.3 0 1 0 6.6 0a3.3 3.3 0 1 0 -6.6 0M299.3 52.8a3.3 3.3 0 1 0 6.6 0a3.3 3.3 0 1 0 -6.6 0M296.7 55.4a3.3 3.3 0 1 0 6.6 0a3.3 3.3 0 1 0 -6.6 0M301.7 47.0a3.3 3.3 0 1 0 6.6 0a3.3 3.3 0 1 0 -6.6 0M319.1 60.3a3.3 3.3 0 1 0 6.6 0a3.3 3.3 0 1 0 -6.6 0M318.8 66.7a3.6 3.6 0 1 0 7.2 0a3.6 3.6 0 1 0 -7.2 0M317.8 64.0a3.0 3.0 0 1 0 6.0 0a3.0 3.0 0 1 0 -6.0 0M350.2 56.8a3.3 3.3 0 1 0 6.6 0a3.3 3.3 0 1 0 -6.6 0M355.7 50.7a3.3 3.3 0 1 0 6.6 0a3.3 3.3 0 1 0 -6.6 0M358.6 49.1a3.6 3.6 0 1 0 7.2 0a3.6 3.6 0 1 0 -7.2 0M362.1 52.3a3.3 3.3 0 1 0 6.6 0a3.3 3.3 0 1 0 -6.6 0M359.7 56.3a3.3 3.3 0 1 0 6.6 0a3.3 3.3 0 1 0 -6.6 0M363.7 56.3a3.3 3.3 0 1 0 6.6 0a3.3 3.3 0 1 0 -6.6 0M354.9 54.7a3.3 3.3 0 1 0 6.6 0a3.3 3.3 0 1 0 -6.6 0M357.7 53.0a3.3 3.3 0 1 0 6.6 0a3.3 3.3 0 1 0 -6.6 0M372.5 54.7a3.3 3.3 0 1 0 6.6 0a3.3 3.3 0 1 0 -6.6 0"/>
<path fill="#E84A2F" d="M366.1 134.9a3.3 3.3 0 1 0 6.6 0a3.3 3.3 0 1 0 -6.6 0M372.5 125.6a3.3 3.3 0 1 0 6.6 0a3.3 3.3 0 1 0 -6.6 0M374.1 132.0a3.3 3.3 0 1 0 6.6 0a3.3 3.3 0 1 0 -6.6 0M376.5 136.8a3.3 3.3 0 1 0 6.6 0a3.3 3.3 0 1 0 -6.6 0M380.4 120.0a3.3 3.3 0 1 0 6.6 0a3.3 3.3 0 1 0 -6.6 0M381.2 125.6a3.3 3.3 0 1 0 6.6 0a3.3 3.3 0 1 0 -6.6 0M379.6 132.0a3.3 3.3 0 1 0 6.6 0a3.3 3.3 0 1 0 -6.6 0M390.0 120.8a3.3 3.3 0 1 0 6.6 0a3.3 3.3 0 1 0 -6.6 0M391.6 124.8a3.3 3.3 0 1 0 6.6 0a3.3 3.3 0 1 0 -6.6 0M388.4 127.2a3.3 3.3 0 1 0 6.6 0a3.3 3.3 0 1 0 -6.6 0M391.6 132.0a3.3 3.3 0 1 0 6.6 0a3.3 3.3 0 1 0 -6.6 0M400.4 132.0a3.3 3.3 0 1 0 6.6 0a3.3 3.3 0 1 0 -6.6 0M405.1 131.2a3.3 3.3 0 1 0 6.6 0a3.3 3.3 0 1 0 -6.6 0M410.7 130.1a3.3 3.3 0 1 0 6.6 0a3.3 3.3 0 1 0 -6.6 0M417.9 132.0a3.3 3.3 0 1 0 6.6 0a3.3 3.3 0 1 0 -6.6 0M425.1 132.0a3.3 3.3 0 1 0 6.6 0a3.3 3.3 0 1 0 -6.6 0M376.7 129.0a3.3 3.3 0 1 0 6.6 0a3.3 3.3 0 1 0 -6.6 0M372.7 137.0a3.3 3.3 0 1 0 6.6 0a3.3 3.3 0 1 0 -6.6 0M374.7 128.0a3.3 3.3 0 1 0 6.6 0a3.3 3.3 0 1 0 -6.6 0"/>
<path fill="#6BA898" d="M1106.8 21.7a3.3 3.3 0 1 0 6.6 0a3.3 3.3 0 1 0 -6.6 0M1124.3 23.9a3.3 3.3 0 1 0 6.6 0a3.3 3.3 0 1 0 -6.6 0M1110.1 39.9a3.3 3.3 0 1 0 6.6 0a3.3 3.3 0 1 0 -6.6 0M1121.1 41.9a3.3 3.3 0 1 0 6.6 0a3.3 3.3 0 1 0 -6.6 0M1093.5 51.4a3.3 3.3 0 1 0 6.6 0a3.3 3.3 0 1 0 -6.6 0M1099.5 49.6a3.3 3.3 0 1 0 6.6 0a3.3 3.3 0 1 0 -6.6 0M1105.4 48.8a3.3 3.3 0 1 0 6.6 0a3.3 3.3 0 1 0 -6.6 0M1113.1 49.6a3.3 3.3 0 1 0 6.6 0a3.3 3.3 0 1 0 -6.6 0M1118.7 54.1a3.3 3.3 0 1 0 6.6 0a3.3 3.3 0 1 0 -6.6 0M1109.7 55.2a3.3 3.3 0 1 0 6.6 0a3.3 3.3 0 1 0 -6.6 0M1102.5 56.5a3.3 3.3 0 1 0 6.6 0a3.3 3.3 0 1 0 -6.6 0M1094.8 55.8a3.3 3.3 0 1 0 6.6 0a3.3 3.3 0 1 0 -6.6 0M1089.5 59.8a3.3 3.3 0 1 0 6.6 0a3.3 3.3 0 1 0 -6.6 0M1095.5 63.1a3.3 3.3 0 1 0 6.6 0a3.3 3.3 0 1 0 -6.6 0M1073.3 58.5a3.3 3.3 0 1 0 6.6 0a3.3 3.3 0 1 0 -6.6 0M1112.7 67.1a3.3 3.3 0 1 0 6.6 0a3.3 3.3 0 1 0 -6.6 0M1088.2 73.5a3.3 3.3 0 1 0 6.6 0a3.3 3.3 0 1 0 -6.6 0M1071.6 85.7a3.3 3.3 0 1 0 6.6 0a3.3 3.3 0 1 0 -6.6 0M1068.3 90.3a3.3 3.3 0 1 0 6.6 0a3.3 3.3 0 1 0 -6.6 0M1090.8 96.3a3.3 3.3 0 1 0 6.6 0a3.3 3.3 0 1 0 -6.6 0M1167.6 32.8a3.3 3.3 0 1 0 6.6 0a3.3 3.3 0 1 0 -6.6 0M1171.6 41.9a3.3 3.3 0 1 0 6.6 0a3.3 3.3 0 1 0 -6.6 0M1164.5 49.2a3.3 3.3 0 1 0 6.6 0a3.3 3.3 0 1 0 -6.6 0M1166.3 54.5a3.3 3.3 0 1 0 6.6 0a3.3 3.3 0 1 0 -6.6 0M1154.6 60.5a3.3 3.3 0 1 0 6.6 0a3.3 3.3 0 1 0 -6.6 0M1166.5 62.5a3.3 3.3 0 1 0 6.6 0a3.3 3.3 0 1 0 -6.6 0M1173.2 63.8a3.3 3.3 0 1 0 6.6 0a3.3 3.3 0 1 0 -6.6 0M1155.7 71.1a3.3 3.3 0 1 0 6.6 0a3.3 3.3 0 1 0 -6.6 0M1166.5 68.4a3.3 3.3 0 1 0 6.6 0a3.3 3.3 0 1 0 -6.6 0M1166.5 74.4a3.3 3.3 0 1 0 6.6 0a3.3 3.3 0 1 0 -6.6 0M1175.2 72.4a3.3 3.3 0 1 0 6.6 0a3.3 3.3 0 1 0 -6.6 0M1177.2 83.7a3.3 3.3 0 1 0 6.6 0a3.3 3.3 0 1 0 -6.6 0M1191.5 94.6a3.3 3.3 0 1 0 6.6 0a3.3 3.3 0 1 0 -6.6 0M1166.5 71.2a3.3 3.3 0 1 0 6.6 0a3.3 3.3 0 1 0 -6.6 0"/>
<path fill="#1D3B58" d="M1143.3 101.9a3.3 3.3 0 1 0 6.6 0a3.3 3.3 0 1 0 -6.6 0M1202.7 97.8a3.3 3.3 0 1 0 6.6 0a3.3 3.3 0 1 0 -6.6 0M1216.7 104.5a3.3 3.3 0 1 0 6.6 0a3.3 3.3 0 1 0 -6.6 0M1180.5 109.0a3.3 3.3 0 1 0 6.6 0a3.3 3.3 0 1 0 -6.6 0M1121.1 123.6a3.3 3.3 0 1 0 6.6 0a3.3 3.3 0 1 0 -6.6 0M1055.0 108.3a3.3 3.3 0 1 0 6.6 0a3.3 3.3 0 1 0 -6.6 0M1053.4 114.3a3.3 3.3 0 1 0 6.6 0a3.3 3.3 0 1 0 -6.6 0M1078.9 115.2a3.3 3.3 0 1 0 6.6 0a3.3 3.3 0 1 0 -6.6 0M1052.1 125.3a3.3 3.3 0 1 0 6.6 0a3.3 3.3 0 1 0 -6.6 0M1053.0 130.9a3.3 3.3 0 1 0 6.6 0a3.3 3.3 0 1 0 -6.6 0M1077.8 125.9a3.3 3.3 0 1 0 6.6 0a3.3 3.3 0 1 0 -6.6 0M1061.4 142.5a3.3 3.3 0 1 0 6.6 0a3.3 3.3 0 1 0 -6.6 0M1085.5 134.4a3.3 3.3 0 1 0 6.6 0a3.3 3.3 0 1 0 -6.6 0M1089.5 141.7a3.3 3.3 0 1 0 6.6 0a3.3 3.3 0 1 0 -6.6 0M1068.3 154.5a3.3 3.3 0 1 0 6.6 0a3.3 3.3 0 1 0 -6.6 0M1097.2 148.5a3.3 3.3 0 1 0 6.6 0a3.3 3.3 0 1 0 -6.6 0M1080.9 164.5a3.3 3.3 0 1 0 6.6 0a3.3 3.3 0 1 0 -6.6 0M1091.1 123.2a3.3 3.3 0 1 0 6.6 0a3.3 3.3 0 1 0 -6.6 0M1098.8 114.9a3.3 3.3 0 1 0 6.6 0a3.3 3.3 0 1 0 -6.6 0M1103.5 110.9a3.3 3.3 0 1 0 6.6 0a3.3 3.3 0 1 0 -6.6 0M1110.1 111.2a3.3 3.3 0 1 0 6.6 0a3.3 3.3 0 1 0 -6.6 0M1114.7 107.6a3.3 3.3 0 1 0 6.6 0a3.3 3.3 0 1 0 -6.6 0M1122.4 109.9a3.3 3.3 0 1 0 6.6 0a3.3 3.3 0 1 0 -6.6 0M1114.7 116.2a3.3 3.3 0 1 0 6.6 0a3.3 3.3 0 1 0 -6.6 0M1105.2 118.9a3.3 3.3 0 1 0 6.6 0a3.3 3.3 0 1 0 -6.6 0M1098.1 120.2a3.3 3.3 0 1 0 6.6 0a3.3 3.3 0 1 0 -6.6 0M1103.9 125.3a3.3 3.3 0 1 0 6.6 0a3.3 3.3 0 1 0 -6.6 0M1096.1 127.5a3.3 3.3 0 1 0 6.6 0a3.3 3.3 0 1 0 -6.6 0M1105.4 130.2a3.3 3.3 0 1 0 6.6 0a3.3 3.3 0 1 0 -6.6 0M1114.7 131.5a3.3 3.3 0 1 0 6.6 0a3.3 3.3 0 1 0 -6.6 0M1098.1 132.2a3.3 3.3 0 1 0 6.6 0a3.3 3.3 0 1 0 -6.6 0M1106.8 135.5a3.3 3.3 0 1 0 6.6 0a3.3 3.3 0 1 0 -6.6 0M1099.5 137.5a3.3 3.3 0 1 0 6.6 0a3.3 3.3 0 1 0 -6.6 0M1114.1 138.2a3.3 3.3 0 1 0 6.6 0a3.3 3.3 0 1 0 -6.6 0M1120.1 140.2a3.3 3.3 0 1 0 6.6 0a3.3 3.3 0 1 0 -6.6 0M1124.7 134.2a3.3 3.3 0 1 0 6.6 0a3.3 3.3 0 1 0 -6.6 0M1105.2 141.2a3.3 3.3 0 1 0 6.6 0a3.3 3.3 0 1 0 -6.6 0M1109.4 144.8a3.3 3.3 0 1 0 6.6 0a3.3 3.3 0 1 0 -6.6 0M1114.7 145.2a3.3 3.3 0 1 0 6.6 0a3.3 3.3 0 1 0 -6.6 0M1120.7 146.1a3.3 3.3 0 1 0 6.6 0a3.3 3.3 0 1 0 -6.6 0M1126.0 142.5a3.3 3.3 0 1 0 6.6 0a3.3 3.3 0 1 0 -6.6 0M1132.7 140.8a3.3 3.3 0 1 0 6.6 0a3.3 3.3 0 1 0 -6.6 0M1132.7 133.8a3.3 3.3 0 1 0 6.6 0a3.3 3.3 0 1 0 -6.6 0M1139.3 131.9a3.3 3.3 0 1 0 6.6 0a3.3 3.3 0 1 0 -6.6 0M1140.6 140.2a3.3 3.3 0 1 0 6.6 0a3.3 3.3 0 1 0 -6.6 0M1135.7 126.6a3.3 3.3 0 1 0 6.6 0a3.3 3.3 0 1 0 -6.6 0M1134.7 120.0a3.3 3.3 0 1 0 6.6 0a3.3 3.3 0 1 0 -6.6 0M1129.1 114.3a3.3 3.3 0 1 0 6.6 0a3.3 3.3 0 1 0 -6.6 0M1149.0 122.9a3.3 3.3 0 1 0 6.6 0a3.3 3.3 0 1 0 -6.6 0M1154.8 116.2a3.3 3.3 0 1 0 6.6 0a3.3 3.3 0 1 0 -6.6 0M1163.2 111.6a3.3 3.3 0 1 0 6.6 0a3.3 3.3 0 1 0 -6.6 0M1170.5 112.9a3.3 3.3 0 1 0 6.6 0a3.3 3.3 0 1 0 -6.6 0M1134.7 148.5a3.3 3.3 0 1 0 6.6 0a3.3 3.3 0 1 0 -6.6 0M1140.6 160.3a3.3 3.3 0 1 0 6.6 0a3.3 3.3 0 1 0 -6.6 0M1147.3 164.3a3.3 3.3 0 1 0 6.6 0a3.3 3.3 0 1 0 -6.6 0M1160.3 162.1a3.3 3.3 0 1 0 6.6 0a3.3 3.3 0 1 0 -6.6 0M1164.5 178.9a3.3 3.3 0 1 0 6.6 0a3.3 3.3 0 1 0 -6.6 0"/>
<path fill="#E84A2F" d="M1200.2 193.6a3.3 3.3 0 1 0 6.6 0a3.3 3.3 0 1 0 -6.6 0M1214.4 202.3a3.3 3.3 0 1 0 6.6 0a3.3 3.3 0 1 0 -6.6 0M1211.0 207.5a3.3 3.3 0 1 0 6.6 0a3.3 3.3 0 1 0 -6.6 0M1201.3 207.1a3.3 3.3 0 1 0 6.6 0a3.3 3.3 0 1 0 -6.6 0M1195.6 210.5a3.3 3.3 0 1 0 6.6 0a3.3 3.3 0 1 0 -6.6 0M1206.0 211.9a3.3 3.3 0 1 0 6.6 0a3.3 3.3 0 1 0 -6.6 0M1236.8 203.2a3.3 3.3 0 1 0 6.6 0a3.3 3.3 0 1 0 -6.6 0M1248.5 215.9a3.3 3.3 0 1 0 6.6 0a3.3 3.3 0 1 0 -6.6 0M1264.7 206.5a3.3 3.3 0 1 0 6.6 0a3.3 3.3 0 1 0 -6.6 0M1286.1 204.8a3.3 3.3 0 1 0 6.6 0a3.3 3.3 0 1 0 -6.6 0"/>
<path fill="#E99C61" d="M1295.3 65.6a3.3 3.3 0 1 0 6.6 0a3.3 3.3 0 1 0 -6.6 0M1245.0 40.4a3.3 3.3 0 1 0 6.6 0a3.3 3.3 0 1 0 -6.6 0M1257.1 30.8a3.3 3.3 0 1 0 6.6 0a3.3 3.3 0 1 0 -6.6 0M1265.1 19.3a3.3 3.3 0 1 0 6.6 0a3.3 3.3 0 1 0 -6.6 0M1270.2 15.8a3.3 3.3 0 1 0 6.6 0a3.3 3.3 0 1 0 -6.6 0M1277.8 15.4a3.3 3.3 0 1 0 6.6 0a3.3 3.3 0 1 0 -6.6 0M1276.2 33.2a3.3 3.3 0 1 0 6.6 0a3.3 3.3 0 1 0 -6.6 0M1289.3 26.8a3.3 3.3 0 1 0 6.6 0a3.3 3.3 0 1 0 -6.6 0M1296.9 22.5a3.3 3.3 0 1 0 6.6 0a3.3 3.3 0 1 0 -6.6 0M1293.8 41.3a3.3 3.3 0 1 0 6.6 0a3.3 3.3 0 1 0 -6.6 0M1300.1 39.3a3.3 3.3 0 1 0 6.6 0a3.3 3.3 0 1 0 -6.6 0M1312.9 26.0a3.3 3.3 0 1 0 6.6 0a3.3 3.3 0 1 0 -6.6 0M1321.5 32.4a3.3 3.3 0 1 0 6.6 0a3.3 3.3 0 1 0 -6.6 0M1327.5 14.2a3.3 3.3 0 1 0 6.6 0a3.3 3.3 0 1 0 -6.6 0M1333.1 16.2a3.3 3.3 0 1 0 6.6 0a3.3 3.3 0 1 0 -6.6 0M1338.7 18.1a3.3 3.3 0 1 0 6.6 0a3.3 3.3 0 1 0 -6.6 0M1341.6 22.8a3.3 3.3 0 1 0 6.6 0a3.3 3.3 0 1 0 -6.6 0M1380.9 35.3a3.3 3.3 0 1 0 6.6 0a3.3 3.3 0 1 0 -6.6 0M1360.7 43.2a3.3 3.3 0 1 0 6.6 0a3.3 3.3 0 1 0 -6.6 0M1333.1 54.4a3.3 3.3 0 1 0 6.6 0a3.3 3.3 0 1 0 -6.6 0M1350.2 56.3a3.3 3.3 0 1 0 6.6 0a3.3 3.3 0 1 0 -6.6 0M1284.2 53.1a3.3 3.3 0 1 0 6.6 0a3.3 3.3 0 1 0 -6.6 0M1295.7 51.2a3.3 3.3 0 1 0 6.6 0a3.3 3.3 0 1 0 -6.6 0M1304.9 50.4a3.3 3.3 0 1 0 6.6 0a3.3 3.3 0 1 0 -6.6 0M1311.6 52.8a3.3 3.3 0 1 0 6.6 0a3.3 3.3 0 1 0 -6.6 0M1303.3 56.0a3.3 3.3 0 1 0 6.6 0a3.3 3.3 0 1 0 -6.6 0M1314.8 57.6a3.3 3.3 0 1 0 6.6 0a3.3 3.3 0 1 0 -6.6 0M1290.1 56.8a3.3 3.3 0 1 0 6.6 0a3.3 3.3 0 1 0 -6.6 0M1280.5 60.8a3.3 3.3 0 1 0 6.6 0a3.3 3.3 0 1 0 -6.6 0M1318.0 62.1a3.3 3.3 0 1 0 6.6 0a3.3 3.3 0 1 0 -6.6 0M1306.8 61.6a3.3 3.3 0 1 0 6.6 0a3.3 3.3 0 1 0 -6.6 0M1281.3 67.6a3.3 3.3 0 1 0 6.6 0a3.3 3.3 0 1 0 -6.6 0M1310.0 67.2a3.3 3.3 0 1 0 6.6 0a3.3 3.3 0 1 0 -6.6 0M1317.2 69.1a3.3 3.3 0 1 0 6.6 0a3.3 3.3 0 1 0 -6.6 0M1307.6 73.2a3.3 3.3 0 1 0 6.6 0a3.3 3.3 0 1 0 -6.6 0M1284.2 74.3a3.3 3.3 0 1 0 6.6 0a3.3 3.3 0 1 0 -6.6 0M1290.6 77.0a3.3 3.3 0 1 0 6.6 0a3.3 3.3 0 1 0 -6.6 0M1299.2 76.7a3.3 3.3 0 1 0 6.6 0a3.3 3.3 0 1 0 -6.6 0M1323.6 75.4a3.3 3.3 0 1 0 6.6 0a3.3 3.3 0 1 0 -6.6 0M1313.2 79.1a3.3 3.3 0 1 0 6.6 0a3.3 3.3 0 1 0 -6.6 0M1309.2 81.8a3.3 3.3 0 1 0 6.6 0a3.3 3.3 0 1 0 -6.6 0M1342.7 84.4a3.3 3.3 0 1 0 6.6 0a3.3 3.3 0 1 0 -6.6 0M1322.0 89.5a3.3 3.3 0 1 0 6.6 0a3.3 3.3 0 1 0 -6.6 0M1301.2 86.6a3.3 3.3 0 1 0 6.6 0a3.3 3.3 0 1 0 -6.6 0M1296.5 91.4a3.3 3.3 0 1 0 6.6 0a3.3 3.3 0 1 0 -6.6 0M1306.8 103.0a3.3 3.3 0 1 0 6.6 0a3.3 3.3 0 1 0 -6.6 0M1297.6 106.5a3.3 3.3 0 1 0 6.6 0a3.3 3.3 0 1 0 -6.6 0M1318.8 116.6a3.3 3.3 0 1 0 6.6 0a3.3 3.3 0 1 0 -6.6 0M1355.9 68.7a3.3 3.3 0 1 0 6.6 0a3.3 3.3 0 1 0 -6.6 0M1375.3 60.0a3.3 3.3 0 1 0 6.6 0a3.3 3.3 0 1 0 -6.6 0M1380.9 63.6a3.3 3.3 0 1 0 6.6 0a3.3 3.3 0 1 0 -6.6 0M1381.7 69.5a3.3 3.3 0 1 0 6.6 0a3.3 3.3 0 1 0 -6.6 0M1375.3 67.5a3.3 3.3 0 1 0 6.6 0a3.3 3.3 0 1 0 -6.6 0M1380.9 75.1a3.3 3.3 0 1 0 6.6 0a3.3 3.3 0 1 0 -6.6 0M1374.1 74.3a3.3 3.3 0 1 0 6.6 0a3.3 3.3 0 1 0 -6.6 0M1374.1 80.2a3.3 3.3 0 1 0 6.6 0a3.3 3.3 0 1 0 -6.6 0"/>
<path fill="#EC6640" d="M623.3 35.3L627.9 32.3L634.5 31.8L640.6 30.8L646.9 29.9L653.6 29.9L658.2 33.1L662.9 37.4L664.1 41.8L660.3 45.1L655.3 47.1L650.8 51.1L644.4 52.6L638.6 54.9L634.3 57.6L627.5 59.3L623.0 57.3L619.6 51.8L618.5 46.3L621.1 40.7ZM594.6 35.6L595.5 33.2L597.9 32.7L600.2 33.5L601.1 36.7L600.4 39.9L597.2 40.8L594.5 39.2ZM595.2 56.6L596.6 53.6L599.9 54.0L601.2 57.7L600.9 61.3L598.6 63.8L595.4 62.2L594.9 59.3ZM592.8 76.6L595.9 73.9L599.9 74.7L601.8 78.8L600.4 83.6L598.6 86.7L596.3 88.4L594.3 94.3L590.1 96.3L588.2 92.1L591.3 87.5L593.5 84.1ZM609.3 103.5L611.3 101.9L613.3 102.9L614.1 105.0L613.4 107.6L610.7 108.2L608.7 106.0Z"/>
<path fill="#EC6640" d="M620.4 35.6a3.4 3.4 0 1 0 6.8 0a3.4 3.4 0 1 0 -6.8 0M626.0 34.0a3.8 3.8 0 1 0 7.5 0a3.8 3.8 0 1 0 -7.5 0M631.4 33.1a3.8 3.8 0 1 0 7.5 0a3.8 3.8 0 1 0 -7.5 0M637.0 31.1a3.7 3.7 0 1 0 7.3 0a3.7 3.7 0 1 0 -7.3 0M642.6 31.4a3.5 3.5 0 1 0 7.1 0a3.5 3.5 0 1 0 -7.1 0M650.6 29.7a3.2 3.2 0 1 0 6.4 0a3.2 3.2 0 1 0 -6.4 0M657.2 31.8a3.3 3.3 0 1 0 6.5 0a3.3 3.3 0 1 0 -6.5 0M660.6 37.0a3.8 3.8 0 1 0 7.6 0a3.8 3.8 0 1 0 -7.6 0M659.8 41.9a3.3 3.3 0 1 0 6.5 0a3.3 3.3 0 1 0 -6.5 0M659.8 45.4a3.2 3.2 0 1 0 6.3 0a3.2 3.2 0 1 0 -6.3 0M653.1 47.4a3.4 3.4 0 1 0 6.8 0a3.4 3.4 0 1 0 -6.8 0M648.7 52.1a3.4 3.4 0 1 0 6.8 0a3.4 3.4 0 1 0 -6.8 0M640.0 50.7a3.6 3.6 0 1 0 7.1 0a3.6 3.6 0 1 0 -7.1 0M634.9 56.8a3.5 3.5 0 1 0 6.9 0a3.5 3.5 0 1 0 -6.9 0M630.9 57.0a3.7 3.7 0 1 0 7.4 0a3.7 3.7 0 1 0 -7.4 0M621.9 61.5a3.8 3.8 0 1 0 7.7 0a3.8 3.8 0 1 0 -7.7 0M621.0 55.9a3.7 3.7 0 1 0 7.4 0a3.7 3.7 0 1 0 -7.4 0M613.8 52.6a3.8 3.8 0 1 0 7.6 0a3.8 3.8 0 1 0 -7.6 0M614.2 46.4a3.6 3.6 0 1 0 7.2 0a3.6 3.6 0 1 0 -7.2 0M616.2 40.5a3.3 3.3 0 1 0 6.5 0a3.3 3.3 0 1 0 -6.5 0M592.4 35.8a2.7 2.7 0 1 0 5.4 0a2.7 2.7 0 1 0 -5.4 0M592.7 33.1a2.8 2.8 0 1 0 5.5 0a2.8 2.8 0 1 0 -5.5 0M594.9 33.2a2.9 2.9 0 1 0 5.8 0a2.9 2.9 0 1 0 -5.8 0M596.1 35.0a2.8 2.8 0 1 0 5.7 0a2.8 2.8 0 1 0 -5.7 0M600.7 36.9a2.7 2.7 0 1 0 5.5 0a2.7 2.7 0 1 0 -5.5 0M598.2 41.1a3.1 3.1 0 1 0 6.3 0a3.1 3.1 0 1 0 -6.3 0M594.2 42.4a2.9 2.9 0 1 0 5.9 0a2.9 2.9 0 1 0 -5.9 0M591.8 39.2a2.8 2.8 0 1 0 5.5 0a2.8 2.8 0 1 0 -5.5 0M592.6 57.1a3.2 3.2 0 1 0 6.5 0a3.2 3.2 0 1 0 -6.5 0M593.0 51.5a3.0 3.0 0 1 0 6.1 0a3.0 3.0 0 1 0 -6.1 0M596.8 54.4a2.9 2.9 0 1 0 5.7 0a2.9 2.9 0 1 0 -5.7 0M600.2 57.1a3.0 3.0 0 1 0 6.0 0a3.0 3.0 0 1 0 -6.0 0M599.5 62.7a3.1 3.1 0 1 0 6.2 0a3.1 3.1 0 1 0 -6.2 0M596.1 65.6a2.8 2.8 0 1 0 5.5 0a2.8 2.8 0 1 0 -5.5 0M593.3 60.5a3.3 3.3 0 1 0 6.5 0a3.3 3.3 0 1 0 -6.5 0M592.8 59.1a3.0 3.0 0 1 0 6.0 0a3.0 3.0 0 1 0 -6.0 0M590.2 77.0a2.7 2.7 0 1 0 5.4 0a2.7 2.7 0 1 0 -5.4 0M593.1 71.7a2.9 2.9 0 1 0 5.8 0a2.9 2.9 0 1 0 -5.8 0M597.2 74.1a3.0 3.0 0 1 0 5.9 0a3.0 3.0 0 1 0 -5.9 0M598.4 79.3a2.9 2.9 0 1 0 5.8 0a2.9 2.9 0 1 0 -5.8 0M598.7 83.3a3.2 3.2 0 1 0 6.5 0a3.2 3.2 0 1 0 -6.5 0M597.6 87.7a2.8 2.8 0 1 0 5.7 0a2.8 2.8 0 1 0 -5.7 0M593.9 90.2a2.8 2.8 0 1 0 5.7 0a2.8 2.8 0 1 0 -5.7 0M590.8 96.3a3.3 3.3 0 1 0 6.6 0a3.3 3.3 0 1 0 -6.6 0M587.4 96.2a2.8 2.8 0 1 0 5.5 0a2.8 2.8 0 1 0 -5.5 0M583.6 93.7a3.0 3.0 0 1 0 6.1 0a3.0 3.0 0 1 0 -6.1 0M587.3 88.0a3.3 3.3 0 1 0 6.5 0a3.3 3.3 0 1 0 -6.5 0M588.3 83.3a3.3 3.3 0 1 0 6.6 0a3.3 3.3 0 1 0 -6.6 0M605.0 102.8a3.2 3.2 0 1 0 6.4 0a3.2 3.2 0 1 0 -6.4 0M608.3 102.6a3.0 3.0 0 1 0 6.1 0a3.0 3.0 0 1 0 -6.1 0M610.7 102.6a2.8 2.8 0 1 0 5.6 0a2.8 2.8 0 1 0 -5.6 0M612.0 105.0a3.0 3.0 0 1 0 5.9 0a3.0 3.0 0 1 0 -5.9 0M609.5 106.0a2.7 2.7 0 1 0 5.5 0a2.7 2.7 0 1 0 -5.5 0M607.9 108.3a2.8 2.8 0 1 0 5.6 0a2.8 2.8 0 1 0 -5.6 0M603.7 106.7a3.0 3.0 0 1 0 6.1 0a3.0 3.0 0 1 0 -6.1 0M622.7 109.5a3.3 3.3 0 1 0 6.6 0a3.3 3.3 0 1 0 -6.6 0M626.7 109.5a3.3 3.3 0 1 0 6.6 0a3.3 3.3 0 1 0 -6.6 0M630.7 109.5a3.3 3.3 0 1 0 6.6 0a3.3 3.3 0 1 0 -6.6 0M634.7 109.5a3.3 3.3 0 1 0 6.6 0a3.3 3.3 0 1 0 -6.6 0M624.8 14.5a4.5 4.5 0 1 0 9.0 0a4.5 4.5 0 1 0 -9.0 0M639.7 16.1a3.8 3.8 0 1 0 7.6 0a3.8 3.8 0 1 0 -7.6 0M609.4 29.0a3.5 3.5 0 1 0 7.0 0a3.5 3.5 0 1 0 -7.0 0M649.8 20.1a3.5 3.5 0 1 0 7.0 0a3.5 3.5 0 1 0 -7.0 0M654.9 22.7a3.5 3.5 0 1 0 7.0 0a3.5 3.5 0 1 0 -7.0 0M662.4 23.7a3.5 3.5 0 1 0 7.0 0a3.5 3.5 0 1 0 -7.0 0M630.9 25.2a3.5 3.5 0 1 0 7.0 0a3.5 3.5 0 1 0 -7.0 0M640.5 27.7a3.3 3.3 0 1 0 6.6 0a3.3 3.3 0 1 0 -6.6 0M692.1 17.0a3.5 3.5 0 1 0 7.0 0a3.5 3.5 0 1 0 -7.0 0M678.5 24.6a3.8 3.8 0 1 0 7.6 0a3.8 3.8 0 1 0 -7.6 0M676.9 35.3a4.2 4.2 0 1 0 8.4 0a4.2 4.2 0 1 0 -8.4 0M680.7 37.0a3.8 3.8 0 1 0 7.6 0a3.8 3.8 0 1 0 -7.6 0M666.1 32.1a3.6 3.6 0 1 0 7.2 0a3.6 3.6 0 1 0 -7.2 0M672.8 44.8a4.5 4.5 0 1 0 9.0 0a4.5 4.5 0 1 0 -9.0 0M683.8 53.6a3.6 3.6 0 1 0 7.2 0a3.6 3.6 0 1 0 -7.2 0M579.7 60.0a3.8 3.8 0 1 0 7.6 0a3.8 3.8 0 1 0 -7.6 0M607.0 44.0a3.3 3.3 0 1 0 6.6 0a3.3 3.3 0 1 0 -6.6 0M604.0 49.1a3.3 3.3 0 1 0 6.6 0a3.3 3.3 0 1 0 -6.6 0M612.1 47.6a3.3 3.3 0 1 0 6.6 0a3.3 3.3 0 1 0 -6.6 0M609.9 61.5a3.3 3.3 0 1 0 6.6 0a3.3 3.3 0 1 0 -6.6 0M608.4 67.3a3.3 3.3 0 1 0 6.6 0a3.3 3.3 0 1 0 -6.6 0M613.5 68.8a3.3 3.3 0 1 0 6.6 0a3.3 3.3 0 1 0 -6.6 0M612.8 58.6a3.3 3.3 0 1 0 6.6 0a3.3 3.3 0 1 0 -6.6 0M617.2 63.0a3.3 3.3 0 1 0 6.6 0a3.3 3.3 0 1 0 -6.6 0M620.1 56.4a3.3 3.3 0 1 0 6.6 0a3.3 3.3 0 1 0 -6.6 0M625.9 67.3a3.3 3.3 0 1 0 6.6 0a3.3 3.3 0 1 0 -6.6 0M624.5 54.2a3.3 3.3 0 1 0 6.6 0a3.3 3.3 0 1 0 -6.6 0M630.3 57.1a3.3 3.3 0 1 0 6.6 0a3.3 3.3 0 1 0 -6.6 0M634.7 60.0a3.3 3.3 0 1 0 6.6 0a3.3 3.3 0 1 0 -6.6 0M637.6 60.0a3.3 3.3 0 1 0 6.6 0a3.3 3.3 0 1 0 -6.6 0M628.9 49.8a3.3 3.3 0 1 0 6.6 0a3.3 3.3 0 1 0 -6.6 0M574.8 92.9a3.3 3.3 0 1 0 6.6 0a3.3 3.3 0 1 0 -6.6 0M574.1 99.5a3.3 3.3 0 1 0 6.6 0a3.3 3.3 0 1 0 -6.6 0M586.5 103.8a3.3 3.3 0 1 0 6.6 0a3.3 3.3 0 1 0 -6.6 0M591.6 108.9a3.3 3.3 0 1 0 6.6 0a3.3 3.3 0 1 0 -6.6 0M598.2 96.5a3.3 3.3 0 1 0 6.6 0a3.3 3.3 0 1 0 -6.6 0M611.3 83.4a3.3 3.3 0 1 0 6.6 0a3.3 3.3 0 1 0 -6.6 0M607.0 79.7a3.3 3.3 0 1 0 6.6 0a3.3 3.3 0 1 0 -6.6 0M604.0 74.6a3.3 3.3 0 1 0 6.6 0a3.3 3.3 0 1 0 -6.6 0M614.3 93.6a3.3 3.3 0 1 0 6.6 0a3.3 3.3 0 1 0 -6.6 0M620.1 100.2a3.3 3.3 0 1 0 6.6 0a3.3 3.3 0 1 0 -6.6 0M623.0 74.6a3.3 3.3 0 1 0 6.6 0a3.3 3.3 0 1 0 -6.6 0M624.5 81.9a3.3 3.3 0 1 0 6.6 0a3.3 3.3 0 1 0 -6.6 0M625.9 86.3a3.3 3.3 0 1 0 6.6 0a3.3 3.3 0 1 0 -6.6 0M630.3 95.1a3.3 3.3 0 1 0 6.6 0a3.3 3.3 0 1 0 -6.6 0M631.0 89.2a3.3 3.3 0 1 0 6.6 0a3.3 3.3 0 1 0 -6.6 0M637.6 74.6a3.3 3.3 0 1 0 6.6 0a3.3 3.3 0 1 0 -6.6 0M642.0 83.4a3.3 3.3 0 1 0 6.6 0a3.3 3.3 0 1 0 -6.6 0M590.2 120.6a3.3 3.3 0 1 0 6.6 0a3.3 3.3 0 1 0 -6.6 0M601.1 119.2a3.3 3.3 0 1 0 6.6 0a3.3 3.3 0 1 0 -6.6 0M619.4 121.4a3.3 3.3 0 1 0 6.6 0a3.3 3.3 0 1 0 -6.6 0M628.1 121.4a3.3 3.3 0 1 0 6.6 0a3.3 3.3 0 1 0 -6.6 0M657.6 54.9a3.3 3.3 0 1 0 6.6 0a3.3 3.3 0 1 0 -6.6 0M666.4 54.2a3.3 3.3 0 1 0 6.6 0a3.3 3.3 0 1 0 -6.6 0M670.2 58.0a3.3 3.3 0 1 0 6.6 0a3.3 3.3 0 1 0 -6.6 0M662.6 61.8a3.3 3.3 0 1 0 6.6 0a3.3 3.3 0 1 0 -6.6 0M652.5 63.1a3.3 3.3 0 1 0 6.6 0a3.3 3.3 0 1 0 -6.6 0M647.5 66.8a3.3 3.3 0 1 0 6.6 0a3.3 3.3 0 1 0 -6.6 0M650.0 70.6a3.3 3.3 0 1 0 6.6 0a3.3 3.3 0 1 0 -6.6 0M653.8 74.4a3.3 3.3 0 1 0 6.6 0a3.3 3.3 0 1 0 -6.6 0M603.3 73.8a3.3 3.3 0 1 0 6.6 0a3.3 3.3 0 1 0 -6.6 0M585.1 93.6a3.3 3.3 0 1 0 6.6 0a3.3 3.3 0 1 0 -6.6 0M598.9 98.0a3.3 3.3 0 1 0 6.6 0a3.3 3.3 0 1 0 -6.6 0M605.5 103.8a3.3 3.3 0 1 0 6.6 0a3.3 3.3 0 1 0 -6.6 0M621.6 109.7a3.3 3.3 0 1 0 6.6 0a3.3 3.3 0 1 0 -6.6 0M634.7 139.6a3.3 3.3 0 1 0 6.6 0a3.3 3.3 0 1 0 -6.6 0M653.7 137.4a3.3 3.3 0 1 0 6.6 0a3.3 3.3 0 1 0 -6.6 0M639.1 152.7a3.3 3.3 0 1 0 6.6 0a3.3 3.3 0 1 0 -6.6 0M649.3 65.8a3.3 3.3 0 1 0 6.6 0a3.3 3.3 0 1 0 -6.6 0M663.9 62.2a3.3 3.3 0 1 0 6.6 0a3.3 3.3 0 1 0 -6.6 0M690.2 153.5a3.3 3.3 0 1 0 6.6 0a3.3 3.3 0 1 0 -6.6 0M699.0 152.0a3.3 3.3 0 1 0 6.6 0a3.3 3.3 0 1 0 -6.6 0M713.4 159.0a3.3 3.3 0 1 0 6.6 0a3.3 3.3 0 1 0 -6.6 0M596.7 47.0a3.3 3.3 0 1 0 6.6 0a3.3 3.3 0 1 0 -6.6 0M601.7 55.0a3.3 3.3 0 1 0 6.6 0a3.3 3.3 0 1 0 -6.6 0M582.7 96.0a3.3 3.3 0 1 0 6.6 0a3.3 3.3 0 1 0 -6.6 0M616.7 84.0a3.3 3.3 0 1 0 6.6 0a3.3 3.3 0 1 0 -6.6 0M632.7 80.0a3.3 3.3 0 1 0 6.6 0a3.3 3.3 0 1 0 -6.6 0M609.7 90.0a3.3 3.3 0 1 0 6.6 0a3.3 3.3 0 1 0 -6.6 0M657.9 55.0a3.3 3.3 0 1 0 6.6 0a3.3 3.3 0 1 0 -6.6 0M665.5 53.4a3.3 3.3 0 1 0 6.6 0a3.3 3.3 0 1 0 -6.6 0M668.6 58.0a3.3 3.3 0 1 0 6.6 0a3.3 3.3 0 1 0 -6.6 0M650.2 65.6a3.3 3.3 0 1 0 6.6 0a3.3 3.3 0 1 0 -6.6 0M653.3 71.8a3.3 3.3 0 1 0 6.6 0a3.3 3.3 0 1 0 -6.6 0M657.9 74.8a3.3 3.3 0 1 0 6.6 0a3.3 3.3 0 1 0 -6.6 0M645.7 64.1a3.3 3.3 0 1 0 6.6 0a3.3 3.3 0 1 0 -6.6 0M641.1 84.0a3.3 3.3 0 1 0 6.6 0a3.3 3.3 0 1 0 -6.6 0M638.0 74.8a3.3 3.3 0 1 0 6.6 0a3.3 3.3 0 1 0 -6.6 0M633.5 79.4a3.3 3.3 0 1 0 6.6 0a3.3 3.3 0 1 0 -6.6 0M698.6 50.4a3.8 3.8 0 1 0 7.6 0a3.8 3.8 0 1 0 -7.6 0M701.2 48.5a3.8 3.8 0 1 0 7.6 0a3.8 3.8 0 1 0 -7.6 0M703.4 52.0a3.6 3.6 0 1 0 7.2 0a3.6 3.6 0 1 0 -7.2 0M711.3 55.0a3.3 3.3 0 1 0 6.6 0a3.3 3.3 0 1 0 -6.6 0M728.9 52.7a3.3 3.3 0 1 0 6.6 0a3.3 3.3 0 1 0 -6.6 0M683.8 54.2a3.3 3.3 0 1 0 6.6 0a3.3 3.3 0 1 0 -6.6 0M679.3 44.3a3.3 3.3 0 1 0 6.6 0a3.3 3.3 0 1 0 -6.6 0M674.2 35.1a3.8 3.8 0 1 0 7.6 0a3.8 3.8 0 1 0 -7.6 0M676.2 37.5a3.8 3.8 0 1 0 7.6 0a3.8 3.8 0 1 0 -7.6 0M594.0 8.5a0.0 0.0 0 1 0 0.0 0a0.0 0.0 0 1 0 -0.0 0"/>
<path fill="#6BA898" d="M665.1 102.3L671.3 95.9L677.3 93.0L687.3 91.6L693.6 94.1L698.5 99.2L704.7 106.7L710.0 111.6L713.4 117.9L712.4 126.7L707.5 133.0L702.4 139.3L696.2 143.8L689.8 145.5L682.8 146.9L677.5 142.9L673.3 136.1L669.3 131.7L661.5 130.0L653.3 126.7L646.5 119.0L647.6 111.7L652.8 105.4L658.6 103.3ZM686.8 67.9L693.1 62.7L700.6 60.9L708.2 61.4L714.4 65.6L715.7 71.3L710.5 75.7L703.5 75.9L698.0 73.9L690.7 75.0L685.4 72.5ZM628.8 146.4L630.4 143.7L633.8 143.4L636.5 145.8L635.7 149.6L632.1 150.4L629.0 149.3Z"/>
<path fill="#6BA898" d="M661.9 102.5a3.4 3.4 0 1 0 6.7 0a3.4 3.4 0 1 0 -6.7 0M667.5 94.6a3.2 3.2 0 1 0 6.3 0a3.2 3.2 0 1 0 -6.3 0M674.1 95.1a3.5 3.5 0 1 0 6.9 0a3.5 3.5 0 1 0 -6.9 0M678.8 92.6a3.5 3.5 0 1 0 7.0 0a3.5 3.5 0 1 0 -7.0 0M683.2 93.8a3.6 3.6 0 1 0 7.3 0a3.6 3.6 0 1 0 -7.3 0M689.5 95.6a3.4 3.4 0 1 0 6.7 0a3.4 3.4 0 1 0 -6.7 0M695.0 99.4a3.4 3.4 0 1 0 6.7 0a3.4 3.4 0 1 0 -6.7 0M697.5 103.6a3.3 3.3 0 1 0 6.5 0a3.3 3.3 0 1 0 -6.5 0M702.6 105.9a3.7 3.7 0 1 0 7.4 0a3.7 3.7 0 1 0 -7.4 0M709.1 111.0a3.3 3.3 0 1 0 6.6 0a3.3 3.3 0 1 0 -6.6 0M712.0 117.8a3.6 3.6 0 1 0 7.3 0a3.6 3.6 0 1 0 -7.3 0M706.4 126.1a3.4 3.4 0 1 0 6.7 0a3.4 3.4 0 1 0 -6.7 0M705.7 134.1a3.8 3.8 0 1 0 7.6 0a3.8 3.8 0 1 0 -7.6 0M696.6 137.2a3.6 3.6 0 1 0 7.2 0a3.6 3.6 0 1 0 -7.2 0M693.3 144.9a3.5 3.5 0 1 0 7.1 0a3.5 3.5 0 1 0 -7.1 0M686.6 145.7a3.3 3.3 0 1 0 6.6 0a3.3 3.3 0 1 0 -6.6 0M679.1 149.7a3.8 3.8 0 1 0 7.7 0a3.8 3.8 0 1 0 -7.7 0M674.0 143.8a3.4 3.4 0 1 0 6.7 0a3.4 3.4 0 1 0 -6.7 0M668.7 138.0a3.8 3.8 0 1 0 7.6 0a3.8 3.8 0 1 0 -7.6 0M666.8 130.7a3.4 3.4 0 1 0 6.9 0a3.4 3.4 0 1 0 -6.9 0M656.0 131.1a3.4 3.4 0 1 0 6.8 0a3.4 3.4 0 1 0 -6.8 0M646.9 127.4a3.7 3.7 0 1 0 7.4 0a3.7 3.7 0 1 0 -7.4 0M647.2 122.8a3.3 3.3 0 1 0 6.5 0a3.3 3.3 0 1 0 -6.5 0M641.0 119.0a3.2 3.2 0 1 0 6.5 0a3.2 3.2 0 1 0 -6.5 0M643.1 111.4a3.3 3.3 0 1 0 6.7 0a3.3 3.3 0 1 0 -6.7 0M648.1 104.8a3.5 3.5 0 1 0 7.0 0a3.5 3.5 0 1 0 -7.0 0M656.3 104.0a3.3 3.3 0 1 0 6.7 0a3.3 3.3 0 1 0 -6.7 0M681.6 67.7a3.4 3.4 0 1 0 6.8 0a3.4 3.4 0 1 0 -6.8 0M691.4 64.2a3.4 3.4 0 1 0 6.8 0a3.4 3.4 0 1 0 -6.8 0M696.9 57.9a3.7 3.7 0 1 0 7.3 0a3.7 3.7 0 1 0 -7.3 0M703.6 62.8a3.2 3.2 0 1 0 6.4 0a3.2 3.2 0 1 0 -6.4 0M708.7 66.2a3.5 3.5 0 1 0 7.0 0a3.5 3.5 0 1 0 -7.0 0M712.3 71.3a3.1 3.1 0 1 0 6.2 0a3.1 3.1 0 1 0 -6.2 0M709.5 77.1a3.1 3.1 0 1 0 6.2 0a3.1 3.1 0 1 0 -6.2 0M701.4 78.2a3.1 3.1 0 1 0 6.1 0a3.1 3.1 0 1 0 -6.1 0M694.3 74.3a3.4 3.4 0 1 0 6.9 0a3.4 3.4 0 1 0 -6.9 0M687.6 74.8a3.4 3.4 0 1 0 6.9 0a3.4 3.4 0 1 0 -6.9 0M683.7 72.1a3.7 3.7 0 1 0 7.5 0a3.7 3.7 0 1 0 -7.5 0M684.7 80.2a3.3 3.3 0 1 0 6.6 0a3.3 3.3 0 1 0 -6.6 0M682.2 86.5a3.3 3.3 0 1 0 6.6 0a3.3 3.3 0 1 0 -6.6 0M688.7 83.0a3.3 3.3 0 1 0 6.6 0a3.3 3.3 0 1 0 -6.6 0M694.7 80.5a3.3 3.3 0 1 0 6.6 0a3.3 3.3 0 1 0 -6.6 0M677.7 89.0a3.3 3.3 0 1 0 6.6 0a3.3 3.3 0 1 0 -6.6 0M627.6 146.7a3.0 3.0 0 1 0 6.0 0a3.0 3.0 0 1 0 -6.0 0M626.8 142.5a2.9 2.9 0 1 0 5.8 0a2.9 2.9 0 1 0 -5.8 0M631.5 141.9a3.0 3.0 0 1 0 6.0 0a3.0 3.0 0 1 0 -6.0 0M635.5 145.1a3.3 3.3 0 1 0 6.6 0a3.3 3.3 0 1 0 -6.6 0M634.3 151.0a3.3 3.3 0 1 0 6.5 0a3.3 3.3 0 1 0 -6.5 0M628.9 147.6a3.5 3.5 0 1 0 6.9 0a3.5 3.5 0 1 0 -6.9 0M628.2 147.8a2.9 2.9 0 1 0 5.8 0a2.9 2.9 0 1 0 -5.8 0M574.8 130.8a3.3 3.3 0 1 0 6.6 0a3.3 3.3 0 1 0 -6.6 0M589.4 127.9a3.3 3.3 0 1 0 6.6 0a3.3 3.3 0 1 0 -6.6 0M597.5 131.6a3.3 3.3 0 1 0 6.6 0a3.3 3.3 0 1 0 -6.6 0M601.1 124.3a3.3 3.3 0 1 0 6.6 0a3.3 3.3 0 1 0 -6.6 0M610.6 124.3a3.3 3.3 0 1 0 6.6 0a3.3 3.3 0 1 0 -6.6 0M615.0 114.0a3.3 3.3 0 1 0 6.6 0a3.3 3.3 0 1 0 -6.6 0M598.9 114.0a3.3 3.3 0 1 0 6.6 0a3.3 3.3 0 1 0 -6.6 0M625.2 90.7a3.3 3.3 0 1 0 6.6 0a3.3 3.3 0 1 0 -6.6 0M636.9 88.5a3.3 3.3 0 1 0 6.6 0a3.3 3.3 0 1 0 -6.6 0M644.2 71.0a3.3 3.3 0 1 0 6.6 0a3.3 3.3 0 1 0 -6.6 0M657.4 68.8a3.3 3.3 0 1 0 6.6 0a3.3 3.3 0 1 0 -6.6 0M668.3 86.3a3.3 3.3 0 1 0 6.6 0a3.3 3.3 0 1 0 -6.6 0M674.9 62.9a3.3 3.3 0 1 0 6.6 0a3.3 3.3 0 1 0 -6.6 0M721.7 134.5a3.3 3.3 0 1 0 6.6 0a3.3 3.3 0 1 0 -6.6 0M720.9 118.4a3.3 3.3 0 1 0 6.6 0a3.3 3.3 0 1 0 -6.6 0M726.7 61.5a3.3 3.3 0 1 0 6.6 0a3.3 3.3 0 1 0 -6.6 0M617.9 154.2a3.3 3.3 0 1 0 6.6 0a3.3 3.3 0 1 0 -6.6 0M639.8 138.1a3.3 3.3 0 1 0 6.6 0a3.3 3.3 0 1 0 -6.6 0M684.7 38.4a3.3 3.3 0 1 0 6.6 0a3.3 3.3 0 1 0 -6.6 0M676.5 24.6a3.3 3.3 0 1 0 6.6 0a3.3 3.3 0 1 0 -6.6 0M691.0 55.5a3.3 3.3 0 1 0 6.6 0a3.3 3.3 0 1 0 -6.6 0M643.7 70.6a3.3 3.3 0 1 0 6.6 0a3.3 3.3 0 1 0 -6.6 0M656.9 68.7a3.3 3.3 0 1 0 6.6 0a3.3 3.3 0 1 0 -6.6 0M636.7 88.3a3.3 3.3 0 1 0 6.6 0a3.3 3.3 0 1 0 -6.6 0M667.7 85.8a3.3 3.3 0 1 0 6.6 0a3.3 3.3 0 1 0 -6.6 0M721.7 120.5a3.3 3.3 0 1 0 6.6 0a3.3 3.3 0 1 0 -6.6 0M722.2 134.9a3.3 3.3 0 1 0 6.6 0a3.3 3.3 0 1 0 -6.6 0M714.7 129.0a3.3 3.3 0 1 0 6.6 0a3.3 3.3 0 1 0 -6.6 0M710.1 40.5a3.8 3.8 0 1 0 7.6 0a3.8 3.8 0 1 0 -7.6 0M712.7 41.5a3.8 3.8 0 1 0 7.6 0a3.8 3.8 0 1 0 -7.6 0M715.9 50.4a3.3 3.3 0 1 0 6.6 0a3.3 3.3 0 1 0 -6.6 0M719.0 51.9a3.3 3.3 0 1 0 6.6 0a3.3 3.3 0 1 0 -6.6 0M728.4 48.1a3.8 3.8 0 1 0 7.6 0a3.8 3.8 0 1 0 -7.6 0M730.7 49.6a3.8 3.8 0 1 0 7.6 0a3.8 3.8 0 1 0 -7.6 0M726.6 60.3a3.3 3.3 0 1 0 6.6 0a3.3 3.3 0 1 0 -6.6 0M720.5 56.5a3.3 3.3 0 1 0 6.6 0a3.3 3.3 0 1 0 -6.6 0M708.3 53.4a3.3 3.3 0 1 0 6.6 0a3.3 3.3 0 1 0 -6.6 0M690.7 55.7a3.3 3.3 0 1 0 6.6 0a3.3 3.3 0 1 0 -6.6 0M683.8 37.4a3.3 3.3 0 1 0 6.6 0a3.3 3.3 0 1 0 -6.6 0M676.2 24.4a3.3 3.3 0 1 0 6.6 0a3.3 3.3 0 1 0 -6.6 0M668.6 71.8a3.3 3.3 0 1 0 6.6 0a3.3 3.3 0 1 0 -6.6 0M671.6 74.8a3.3 3.3 0 1 0 6.6 0a3.3 3.3 0 1 0 -6.6 0M644.1 70.2a3.3 3.3 0 1 0 6.6 0a3.3 3.3 0 1 0 -6.6 0M656.4 67.2a3.3 3.3 0 1 0 6.6 0a3.3 3.3 0 1 0 -6.6 0M636.5 88.5a3.3 3.3 0 1 0 6.6 0a3.3 3.3 0 1 0 -6.6 0M625.8 90.8a3.3 3.3 0 1 0 6.6 0a3.3 3.3 0 1 0 -6.6 0M667.0 85.5a3.3 3.3 0 1 0 6.6 0a3.3 3.3 0 1 0 -6.6 0M676.2 151.0a3.3 3.3 0 1 0 6.6 0a3.3 3.3 0 1 0 -6.6 0M683.8 150.3a3.3 3.3 0 1 0 6.6 0a3.3 3.3 0 1 0 -6.6 0M689.9 149.5a3.3 3.3 0 1 0 6.6 0a3.3 3.3 0 1 0 -6.6 0M677.7 154.0a3.3 3.3 0 1 0 6.6 0a3.3 3.3 0 1 0 -6.6 0M639.6 114.4a3.3 3.3 0 1 0 6.6 0a3.3 3.3 0 1 0 -6.6 0M642.6 130.0a3.3 3.3 0 1 0 6.6 0a3.3 3.3 0 1 0 -6.6 0"/>
<path fill="#E8432B" d="M687.9 62.4a3.3 3.3 0 1 0 6.6 0a3.3 3.3 0 1 0 -6.6 0M672.7 67.5a3.3 3.3 0 1 0 6.6 0a3.3 3.3 0 1 0 -6.6 0M675.9 68.1a3.3 3.3 0 1 0 6.6 0a3.3 3.3 0 1 0 -6.6 0M664.5 72.5a3.3 3.3 0 1 0 6.6 0a3.3 3.3 0 1 0 -6.6 0M652.5 76.9a3.3 3.3 0 1 0 6.6 0a3.3 3.3 0 1 0 -6.6 0M660.1 80.1a3.3 3.3 0 1 0 6.6 0a3.3 3.3 0 1 0 -6.6 0M660.1 83.9a3.3 3.3 0 1 0 6.6 0a3.3 3.3 0 1 0 -6.6 0M655.1 88.3a3.3 3.3 0 1 0 6.6 0a3.3 3.3 0 1 0 -6.6 0M662.6 92.1a3.3 3.3 0 1 0 6.6 0a3.3 3.3 0 1 0 -6.6 0M647.5 94.9a3.3 3.3 0 1 0 6.6 0a3.3 3.3 0 1 0 -6.6 0M681.6 92.1a3.3 3.3 0 1 0 6.6 0a3.3 3.3 0 1 0 -6.6 0M688.5 86.4a3.3 3.3 0 1 0 6.6 0a3.3 3.3 0 1 0 -6.6 0M626.7 135.2a3.3 3.3 0 1 0 6.6 0a3.3 3.3 0 1 0 -6.6 0M643.5 124.3a3.3 3.3 0 1 0 6.6 0a3.3 3.3 0 1 0 -6.6 0M645.7 122.0a3.3 3.3 0 1 0 6.6 0a3.3 3.3 0 1 0 -6.6 0M640.7 126.0a3.3 3.3 0 1 0 6.6 0a3.3 3.3 0 1 0 -6.6 0M637.7 127.2a3.3 3.3 0 1 0 6.6 0a3.3 3.3 0 1 0 -6.6 0M647.9 95.0a3.3 3.3 0 1 0 6.6 0a3.3 3.3 0 1 0 -6.6 0M656.6 104.5a3.3 3.3 0 1 0 6.6 0a3.3 3.3 0 1 0 -6.6 0M655.2 116.2a3.3 3.3 0 1 0 6.6 0a3.3 3.3 0 1 0 -6.6 0M653.0 76.8a3.3 3.3 0 1 0 6.6 0a3.3 3.3 0 1 0 -6.6 0M661.0 79.0a3.3 3.3 0 1 0 6.6 0a3.3 3.3 0 1 0 -6.6 0M664.7 73.1a3.3 3.3 0 1 0 6.6 0a3.3 3.3 0 1 0 -6.6 0M655.2 89.2a3.3 3.3 0 1 0 6.6 0a3.3 3.3 0 1 0 -6.6 0M661.7 95.0a3.3 3.3 0 1 0 6.6 0a3.3 3.3 0 1 0 -6.6 0M665.4 92.9a3.3 3.3 0 1 0 6.6 0a3.3 3.3 0 1 0 -6.6 0M674.2 68.0a3.3 3.3 0 1 0 6.6 0a3.3 3.3 0 1 0 -6.6 0M688.0 62.9a3.3 3.3 0 1 0 6.6 0a3.3 3.3 0 1 0 -6.6 0M693.9 74.6a3.3 3.3 0 1 0 6.6 0a3.3 3.3 0 1 0 -6.6 0M688.8 87.0a3.3 3.3 0 1 0 6.6 0a3.3 3.3 0 1 0 -6.6 0M681.5 91.4a3.3 3.3 0 1 0 6.6 0a3.3 3.3 0 1 0 -6.6 0M699.7 92.9a3.3 3.3 0 1 0 6.6 0a3.3 3.3 0 1 0 -6.6 0M710.7 89.9a3.3 3.3 0 1 0 6.6 0a3.3 3.3 0 1 0 -6.6 0M700.4 102.4a3.3 3.3 0 1 0 6.6 0a3.3 3.3 0 1 0 -6.6 0M715.1 105.3a3.3 3.3 0 1 0 6.6 0a3.3 3.3 0 1 0 -6.6 0M680.0 119.1a3.3 3.3 0 1 0 6.6 0a3.3 3.3 0 1 0 -6.6 0M676.3 137.4a3.3 3.3 0 1 0 6.6 0a3.3 3.3 0 1 0 -6.6 0M674.2 149.8a3.3 3.3 0 1 0 6.6 0a3.3 3.3 0 1 0 -6.6 0M708.5 89.7a4.2 4.2 0 1 0 8.4 0a4.2 4.2 0 1 0 -8.4 0M699.9 92.9a3.3 3.3 0 1 0 6.6 0a3.3 3.3 0 1 0 -6.6 0M715.3 105.1a3.3 3.3 0 1 0 6.6 0a3.3 3.3 0 1 0 -6.6 0M699.9 101.9a3.3 3.3 0 1 0 6.6 0a3.3 3.3 0 1 0 -6.6 0M625.9 133.0a3.3 3.3 0 1 0 6.6 0a3.3 3.3 0 1 0 -6.6 0M656.7 85.0a3.3 3.3 0 1 0 6.6 0a3.3 3.3 0 1 0 -6.6 0M658.7 98.0a3.3 3.3 0 1 0 6.6 0a3.3 3.3 0 1 0 -6.6 0M653.3 76.3a3.3 3.3 0 1 0 6.6 0a3.3 3.3 0 1 0 -6.6 0M659.4 79.4a3.3 3.3 0 1 0 6.6 0a3.3 3.3 0 1 0 -6.6 0M656.4 88.5a3.3 3.3 0 1 0 6.6 0a3.3 3.3 0 1 0 -6.6 0M660.9 91.6a3.3 3.3 0 1 0 6.6 0a3.3 3.3 0 1 0 -6.6 0M662.5 94.7a3.3 3.3 0 1 0 6.6 0a3.3 3.3 0 1 0 -6.6 0M653.3 93.1a3.3 3.3 0 1 0 6.6 0a3.3 3.3 0 1 0 -6.6 0M648.7 94.7a3.3 3.3 0 1 0 6.6 0a3.3 3.3 0 1 0 -6.6 0M657.1 104.6a3.3 3.3 0 1 0 6.6 0a3.3 3.3 0 1 0 -6.6 0M665.5 73.3a3.3 3.3 0 1 0 6.6 0a3.3 3.3 0 1 0 -6.6 0M674.7 67.2a3.3 3.3 0 1 0 6.6 0a3.3 3.3 0 1 0 -6.6 0M677.2 67.5a3.3 3.3 0 1 0 6.6 0a3.3 3.3 0 1 0 -6.6 0M688.4 62.6a3.3 3.3 0 1 0 6.6 0a3.3 3.3 0 1 0 -6.6 0M694.5 74.8a3.3 3.3 0 1 0 6.6 0a3.3 3.3 0 1 0 -6.6 0M682.3 91.6a3.3 3.3 0 1 0 6.6 0a3.3 3.3 0 1 0 -6.6 0M700.6 93.1a3.3 3.3 0 1 0 6.6 0a3.3 3.3 0 1 0 -6.6 0M710.6 90.1a4.0 4.0 0 1 0 8.0 0a4.0 4.0 0 1 0 -8.0 0M715.1 105.3a3.3 3.3 0 1 0 6.6 0a3.3 3.3 0 1 0 -6.6 0M705.2 57.3a3.3 3.3 0 1 0 6.6 0a3.3 3.3 0 1 0 -6.6 0"/>
<path fill="#2E7A89" d="M695.3 101.6a3.3 3.3 0 1 0 6.6 0a3.3 3.3 0 1 0 -6.6 0M693.1 108.2a3.3 3.3 0 1 0 6.6 0a3.3 3.3 0 1 0 -6.6 0M709.2 97.2a3.3 3.3 0 1 0 6.6 0a3.3 3.3 0 1 0 -6.6 0M709.2 136.0a3.3 3.3 0 1 0 6.6 0a3.3 3.3 0 1 0 -6.6 0M704.8 147.6a3.3 3.3 0 1 0 6.6 0a3.3 3.3 0 1 0 -6.6 0M726.7 81.9a3.3 3.3 0 1 0 6.6 0a3.3 3.3 0 1 0 -6.6 0M728.9 76.8a3.3 3.3 0 1 0 6.6 0a3.3 3.3 0 1 0 -6.6 0M726.7 89.2a3.3 3.3 0 1 0 6.6 0a3.3 3.3 0 1 0 -6.6 0M719.4 115.5a3.3 3.3 0 1 0 6.6 0a3.3 3.3 0 1 0 -6.6 0M729.7 122.8a3.3 3.3 0 1 0 6.6 0a3.3 3.3 0 1 0 -6.6 0M728.0 77.0a3.3 3.3 0 1 0 6.6 0a3.3 3.3 0 1 0 -6.6 0M734.4 81.8a3.3 3.3 0 1 0 6.6 0a3.3 3.3 0 1 0 -6.6 0M745.0 79.6a3.3 3.3 0 1 0 6.6 0a3.3 3.3 0 1 0 -6.6 0M734.9 87.1a3.3 3.3 0 1 0 6.6 0a3.3 3.3 0 1 0 -6.6 0M726.4 91.3a3.3 3.3 0 1 0 6.6 0a3.3 3.3 0 1 0 -6.6 0M737.1 97.7a3.3 3.3 0 1 0 6.6 0a3.3 3.3 0 1 0 -6.6 0M709.4 97.2a3.3 3.3 0 1 0 6.6 0a3.3 3.3 0 1 0 -6.6 0M733.3 111.0a3.3 3.3 0 1 0 6.6 0a3.3 3.3 0 1 0 -6.6 0M719.5 115.2a3.3 3.3 0 1 0 6.6 0a3.3 3.3 0 1 0 -6.6 0M731.2 122.7a3.3 3.3 0 1 0 6.6 0a3.3 3.3 0 1 0 -6.6 0M709.4 135.9a3.3 3.3 0 1 0 6.6 0a3.3 3.3 0 1 0 -6.6 0M723.2 106.7a3.3 3.3 0 1 0 6.6 0a3.3 3.3 0 1 0 -6.6 0M702.0 149.0a4.0 4.0 0 1 0 8.0 0a4.0 4.0 0 1 0 -8.0 0"/>
<path fill="#1C2546" d="M717.3 84.4a5.0 5.0 0 1 0 10.0 0a5.0 5.0 0 1 0 -10.0 0M722.0 85.0a4.0 4.0 0 1 0 8.0 0a4.0 4.0 0 1 0 -8.0 0M729.1 89.2a3.3 3.3 0 1 0 6.6 0a3.3 3.3 0 1 0 -6.6 0M741.3 90.8a3.3 3.3 0 1 0 6.6 0a3.3 3.3 0 1 0 -6.6 0M746.6 85.5a3.3 3.3 0 1 0 6.6 0a3.3 3.3 0 1 0 -6.6 0M749.8 82.3a3.3 3.3 0 1 0 6.6 0a3.3 3.3 0 1 0 -6.6 0M758.1 81.0a4.0 4.0 0 1 0 8.0 0a4.0 4.0 0 1 0 -8.0 0M758.1 85.0a4.0 4.0 0 1 0 8.0 0a4.0 4.0 0 1 0 -8.0 0M757.8 97.2a3.3 3.3 0 1 0 6.6 0a3.3 3.3 0 1 0 -6.6 0M767.3 98.2a3.3 3.3 0 1 0 6.6 0a3.3 3.3 0 1 0 -6.6 0M765.2 101.9a3.3 3.3 0 1 0 6.6 0a3.3 3.3 0 1 0 -6.6 0M762.7 104.5a3.3 3.3 0 1 0 6.6 0a3.3 3.3 0 1 0 -6.6 0M780.6 91.9a3.3 3.3 0 1 0 6.6 0a3.3 3.3 0 1 0 -6.6 0M780.6 95.0a3.3 3.3 0 1 0 6.6 0a3.3 3.3 0 1 0 -6.6 0M780.6 98.2a3.3 3.3 0 1 0 6.6 0a3.3 3.3 0 1 0 -6.6 0M779.0 101.4a3.3 3.3 0 1 0 6.6 0a3.3 3.3 0 1 0 -6.6 0M783.7 96.0a3.3 3.3 0 1 0 6.6 0a3.3 3.3 0 1 0 -6.6 0M788.0 97.2a3.3 3.3 0 1 0 6.6 0a3.3 3.3 0 1 0 -6.6 0M776.9 90.5a3.6 3.6 0 1 0 7.2 0a3.6 3.6 0 1 0 -7.2 0M782.9 90.5a3.6 3.6 0 1 0 7.2 0a3.6 3.6 0 1 0 -7.2 0M776.7 99.0a3.3 3.3 0 1 0 6.6 0a3.3 3.3 0 1 0 -6.6 0M782.7 101.0a3.3 3.3 0 1 0 6.6 0a3.3 3.3 0 1 0 -6.6 0M776.2 95.0a3.3 3.3 0 1 0 6.6 0a3.3 3.3 0 1 0 -6.6 0M784.7 93.0a3.3 3.3 0 1 0 6.6 0a3.3 3.3 0 1 0 -6.6 0M800.0 95.0a3.5 3.5 0 1 0 7.0 0a3.5 3.5 0 1 0 -7.0 0M800.0 98.5a3.5 3.5 0 1 0 7.0 0a3.5 3.5 0 1 0 -7.0 0M759.4 112.0a3.3 3.3 0 1 0 6.6 0a3.3 3.3 0 1 0 -6.6 0M752.2 121.6a3.3 3.3 0 1 0 6.6 0a3.3 3.3 0 1 0 -6.6 0M755.7 121.6a3.3 3.3 0 1 0 6.6 0a3.3 3.3 0 1 0 -6.6 0M725.4 101.4a3.3 3.3 0 1 0 6.6 0a3.3 3.3 0 1 0 -6.6 0M724.8 98.2a3.3 3.3 0 1 0 6.6 0a3.3 3.3 0 1 0 -6.6 0M729.6 97.2a3.3 3.3 0 1 0 6.6 0a3.3 3.3 0 1 0 -6.6 0M710.5 107.8a3.3 3.3 0 1 0 6.6 0a3.3 3.3 0 1 0 -6.6 0"/>
<path fill="#E99C61" d="M743.8 190.9L748.5 187.5L754.3 188.9L759.1 192.1L763.0 194.8L766.6 191.6L771.5 191.7L778.1 193.7L783.0 197.0L783.2 203.1L777.5 205.4L770.3 206.5L764.7 205.0L759.7 202.6L752.7 201.8L745.9 199.6ZM849.6 144.4L852.5 142.0L856.6 141.9L860.8 143.0L863.6 146.4L863.3 150.8L859.5 153.9L854.6 154.1L850.4 151.7L848.5 147.9Z"/>
<path fill="#E99C61" d="M738.7 190.4a3.6 3.6 0 1 0 7.1 0a3.6 3.6 0 1 0 -7.1 0M746.2 188.1a3.3 3.3 0 1 0 6.6 0a3.3 3.3 0 1 0 -6.6 0M753.2 190.7a3.2 3.2 0 1 0 6.3 0a3.2 3.2 0 1 0 -6.3 0M754.3 190.7a3.4 3.4 0 1 0 6.8 0a3.4 3.4 0 1 0 -6.8 0M758.6 192.1a3.5 3.5 0 1 0 6.9 0a3.5 3.5 0 1 0 -6.9 0M763.3 191.5a3.4 3.4 0 1 0 6.7 0a3.4 3.4 0 1 0 -6.7 0M769.8 190.7a3.0 3.0 0 1 0 6.1 0a3.0 3.0 0 1 0 -6.1 0M774.3 193.7a3.4 3.4 0 1 0 6.8 0a3.4 3.4 0 1 0 -6.8 0M780.2 197.0a3.1 3.1 0 1 0 6.3 0a3.1 3.1 0 1 0 -6.3 0M781.0 203.5a3.4 3.4 0 1 0 6.9 0a3.4 3.4 0 1 0 -6.9 0M772.9 204.7a3.3 3.3 0 1 0 6.7 0a3.3 3.3 0 1 0 -6.7 0M768.1 208.3a3.4 3.4 0 1 0 6.7 0a3.4 3.4 0 1 0 -6.7 0M761.4 203.6a3.1 3.1 0 1 0 6.2 0a3.1 3.1 0 1 0 -6.2 0M755.1 204.8a3.0 3.0 0 1 0 6.0 0a3.0 3.0 0 1 0 -6.0 0M749.4 201.7a3.6 3.6 0 1 0 7.1 0a3.6 3.6 0 1 0 -7.1 0M743.6 199.4a3.4 3.4 0 1 0 6.7 0a3.4 3.4 0 1 0 -6.7 0M740.7 195.1a3.5 3.5 0 1 0 7.0 0a3.5 3.5 0 1 0 -7.0 0M846.2 144.3a3.4 3.4 0 1 0 6.9 0a3.4 3.4 0 1 0 -6.9 0M848.5 140.2a3.0 3.0 0 1 0 6.0 0a3.0 3.0 0 1 0 -6.0 0M853.3 144.2a3.1 3.1 0 1 0 6.2 0a3.1 3.1 0 1 0 -6.2 0M858.1 142.4a3.4 3.4 0 1 0 6.7 0a3.4 3.4 0 1 0 -6.7 0M861.5 146.2a3.4 3.4 0 1 0 6.8 0a3.4 3.4 0 1 0 -6.8 0M857.6 149.7a3.3 3.3 0 1 0 6.5 0a3.3 3.3 0 1 0 -6.5 0M856.6 154.9a3.5 3.5 0 1 0 7.0 0a3.5 3.5 0 1 0 -7.0 0M850.8 155.5a3.5 3.5 0 1 0 7.0 0a3.5 3.5 0 1 0 -7.0 0M845.8 152.6a3.3 3.3 0 1 0 6.6 0a3.3 3.3 0 1 0 -6.6 0M844.3 147.9a3.3 3.3 0 1 0 6.6 0a3.3 3.3 0 1 0 -6.6 0M713.4 156.6a3.3 3.3 0 1 0 6.6 0a3.3 3.3 0 1 0 -6.6 0M733.4 162.6a3.3 3.3 0 1 0 6.6 0a3.3 3.3 0 1 0 -6.6 0M727.6 172.4a3.3 3.3 0 1 0 6.6 0a3.3 3.3 0 1 0 -6.6 0M745.0 174.0a3.3 3.3 0 1 0 6.6 0a3.3 3.3 0 1 0 -6.6 0M755.3 175.9a3.3 3.3 0 1 0 6.6 0a3.3 3.3 0 1 0 -6.6 0M752.1 183.0a3.3 3.3 0 1 0 6.6 0a3.3 3.3 0 1 0 -6.6 0M757.3 184.3a3.3 3.3 0 1 0 6.6 0a3.3 3.3 0 1 0 -6.6 0M743.1 185.6a3.3 3.3 0 1 0 6.6 0a3.3 3.3 0 1 0 -6.6 0M737.9 194.6a3.3 3.3 0 1 0 6.6 0a3.3 3.3 0 1 0 -6.6 0M745.7 192.0a3.3 3.3 0 1 0 6.6 0a3.3 3.3 0 1 0 -6.6 0M741.1 199.7a3.3 3.3 0 1 0 6.6 0a3.3 3.3 0 1 0 -6.6 0M749.5 189.4a3.3 3.3 0 1 0 6.6 0a3.3 3.3 0 1 0 -6.6 0M755.3 192.0a3.3 3.3 0 1 0 6.6 0a3.3 3.3 0 1 0 -6.6 0M768.2 191.3a3.3 3.3 0 1 0 6.6 0a3.3 3.3 0 1 0 -6.6 0M762.4 197.1a3.3 3.3 0 1 0 6.6 0a3.3 3.3 0 1 0 -6.6 0M768.8 199.7a3.3 3.3 0 1 0 6.6 0a3.3 3.3 0 1 0 -6.6 0M776.6 196.5a3.3 3.3 0 1 0 6.6 0a3.3 3.3 0 1 0 -6.6 0M780.4 197.1a3.3 3.3 0 1 0 6.6 0a3.3 3.3 0 1 0 -6.6 0M761.1 204.2a3.3 3.3 0 1 0 6.6 0a3.3 3.3 0 1 0 -6.6 0M767.6 206.2a3.3 3.3 0 1 0 6.6 0a3.3 3.3 0 1 0 -6.6 0M774.0 203.6a3.3 3.3 0 1 0 6.6 0a3.3 3.3 0 1 0 -6.6 0M754.0 201.0a3.3 3.3 0 1 0 6.6 0a3.3 3.3 0 1 0 -6.6 0M738.6 208.1a3.3 3.3 0 1 0 6.6 0a3.3 3.3 0 1 0 -6.6 0M745.0 207.5a3.3 3.3 0 1 0 6.6 0a3.3 3.3 0 1 0 -6.6 0M781.7 208.7a3.3 3.3 0 1 0 6.6 0a3.3 3.3 0 1 0 -6.6 0M784.3 206.2a3.3 3.3 0 1 0 6.6 0a3.3 3.3 0 1 0 -6.6 0M759.8 213.9a3.3 3.3 0 1 0 6.6 0a3.3 3.3 0 1 0 -6.6 0M768.2 215.8a3.3 3.3 0 1 0 6.6 0a3.3 3.3 0 1 0 -6.6 0M784.3 189.4a3.3 3.3 0 1 0 6.6 0a3.3 3.3 0 1 0 -6.6 0M798.5 183.6a3.3 3.3 0 1 0 6.6 0a3.3 3.3 0 1 0 -6.6 0M812.0 176.5a3.3 3.3 0 1 0 6.6 0a3.3 3.3 0 1 0 -6.6 0M777.2 162.4a3.3 3.3 0 1 0 6.6 0a3.3 3.3 0 1 0 -6.6 0M794.6 170.1a3.3 3.3 0 1 0 6.6 0a3.3 3.3 0 1 0 -6.6 0M806.9 133.4a3.3 3.3 0 1 0 6.6 0a3.3 3.3 0 1 0 -6.6 0M817.2 139.2a3.3 3.3 0 1 0 6.6 0a3.3 3.3 0 1 0 -6.6 0M824.9 139.8a3.3 3.3 0 1 0 6.6 0a3.3 3.3 0 1 0 -6.6 0M861.5 73.4a3.3 3.3 0 1 0 6.6 0a3.3 3.3 0 1 0 -6.6 0M872.8 69.3a3.3 3.3 0 1 0 6.6 0a3.3 3.3 0 1 0 -6.6 0M874.9 71.3a3.3 3.3 0 1 0 6.6 0a3.3 3.3 0 1 0 -6.6 0M866.6 76.5a3.3 3.3 0 1 0 6.6 0a3.3 3.3 0 1 0 -6.6 0M862.5 79.5a3.3 3.3 0 1 0 6.6 0a3.3 3.3 0 1 0 -6.6 0M848.1 85.7a3.3 3.3 0 1 0 6.6 0a3.3 3.3 0 1 0 -6.6 0M858.4 85.7a3.3 3.3 0 1 0 6.6 0a3.3 3.3 0 1 0 -6.6 0M869.7 89.8a3.3 3.3 0 1 0 6.6 0a3.3 3.3 0 1 0 -6.6 0M876.9 82.6a3.3 3.3 0 1 0 6.6 0a3.3 3.3 0 1 0 -6.6 0M881.0 79.5a3.3 3.3 0 1 0 6.6 0a3.3 3.3 0 1 0 -6.6 0M883.1 82.6a3.3 3.3 0 1 0 6.6 0a3.3 3.3 0 1 0 -6.6 0M879.0 87.8a3.3 3.3 0 1 0 6.6 0a3.3 3.3 0 1 0 -6.6 0M881.0 90.9a3.3 3.3 0 1 0 6.6 0a3.3 3.3 0 1 0 -6.6 0M889.3 73.4a3.3 3.3 0 1 0 6.6 0a3.3 3.3 0 1 0 -6.6 0M893.4 76.5a3.3 3.3 0 1 0 6.6 0a3.3 3.3 0 1 0 -6.6 0M896.5 79.5a3.3 3.3 0 1 0 6.6 0a3.3 3.3 0 1 0 -6.6 0M874.9 85.7a3.3 3.3 0 1 0 6.6 0a3.3 3.3 0 1 0 -6.6 0M871.8 118.6a3.3 3.3 0 1 0 6.6 0a3.3 3.3 0 1 0 -6.6 0M844.0 118.6a3.3 3.3 0 1 0 6.6 0a3.3 3.3 0 1 0 -6.6 0M858.4 117.6a3.3 3.3 0 1 0 6.6 0a3.3 3.3 0 1 0 -6.6 0M879.0 114.5a3.3 3.3 0 1 0 6.6 0a3.3 3.3 0 1 0 -6.6 0M883.1 119.7a3.3 3.3 0 1 0 6.6 0a3.3 3.3 0 1 0 -6.6 0M881.0 122.7a3.3 3.3 0 1 0 6.6 0a3.3 3.3 0 1 0 -6.6 0M887.2 116.6a3.3 3.3 0 1 0 6.6 0a3.3 3.3 0 1 0 -6.6 0M890.3 114.5a3.3 3.3 0 1 0 6.6 0a3.3 3.3 0 1 0 -6.6 0M900.6 111.4a3.3 3.3 0 1 0 6.6 0a3.3 3.3 0 1 0 -6.6 0M902.6 114.5a3.3 3.3 0 1 0 6.6 0a3.3 3.3 0 1 0 -6.6 0M901.6 119.7a3.3 3.3 0 1 0 6.6 0a3.3 3.3 0 1 0 -6.6 0M864.6 126.9a3.3 3.3 0 1 0 6.6 0a3.3 3.3 0 1 0 -6.6 0M884.7 117.0a3.3 3.3 0 1 0 6.6 0a3.3 3.3 0 1 0 -6.6 0M881.7 116.0a3.3 3.3 0 1 0 6.6 0a3.3 3.3 0 1 0 -6.6 0M840.9 131.0a3.3 3.3 0 1 0 6.6 0a3.3 3.3 0 1 0 -6.6 0M850.2 132.0a3.3 3.3 0 1 0 6.6 0a3.3 3.3 0 1 0 -6.6 0M855.3 136.1a3.3 3.3 0 1 0 6.6 0a3.3 3.3 0 1 0 -6.6 0M840.9 137.8a3.3 3.3 0 1 0 6.6 0a3.3 3.3 0 1 0 -6.6 0M864.6 152.6a3.3 3.3 0 1 0 6.6 0a3.3 3.3 0 1 0 -6.6 0M875.9 155.7a3.3 3.3 0 1 0 6.6 0a3.3 3.3 0 1 0 -6.6 0M831.7 143.3a3.3 3.3 0 1 0 6.6 0a3.3 3.3 0 1 0 -6.6 0M812.1 176.2a3.3 3.3 0 1 0 6.6 0a3.3 3.3 0 1 0 -6.6 0M819.3 181.4a3.3 3.3 0 1 0 6.6 0a3.3 3.3 0 1 0 -6.6 0M816.2 184.5a3.3 3.3 0 1 0 6.6 0a3.3 3.3 0 1 0 -6.6 0M823.4 179.3a3.3 3.3 0 1 0 6.6 0a3.3 3.3 0 1 0 -6.6 0M826.5 184.5a3.3 3.3 0 1 0 6.6 0a3.3 3.3 0 1 0 -6.6 0M821.4 188.6a3.3 3.3 0 1 0 6.6 0a3.3 3.3 0 1 0 -6.6 0M837.8 190.0a3.3 3.3 0 1 0 6.6 0a3.3 3.3 0 1 0 -6.6 0M827.6 195.8a3.3 3.3 0 1 0 6.6 0a3.3 3.3 0 1 0 -6.6 0M846.1 194.7a3.3 3.3 0 1 0 6.6 0a3.3 3.3 0 1 0 -6.6 0M846.1 197.8a3.3 3.3 0 1 0 6.6 0a3.3 3.3 0 1 0 -6.6 0M798.8 183.4a3.3 3.3 0 1 0 6.6 0a3.3 3.3 0 1 0 -6.6 0M819.1 183.0a3.3 3.3 0 1 0 6.6 0a3.3 3.3 0 1 0 -6.6 0M822.7 186.0a3.3 3.3 0 1 0 6.6 0a3.3 3.3 0 1 0 -6.6 0"/>
<g>
<path d="M315.6 537 L315.6 419 L318.6 419.8 L321.6 421.6 L338.6 438.1 L343.6 441.9 L345.6 442.7 L351.6 442.9 L352.6 442.7 L354.6 441.2 L358.6 436.8 L372.6 415 L374.6 412.8 L379.6 410.3 L382.6 409.7 L384.6 409.9 L390.6 413.1 L392.6 414.9 L398.6 423.4 L403.6 433.7 L427.6 497.2 L433.6 509.2 L438.6 516.5 L447.6 525.5 L451.6 528.2 L461.6 531.9 L462.6 532.1 L462.6 537 Z" fill="#E84A2F"/>
<path d="M184.6 537 L184.6 526 L186.6 521.9 L188.6 516.3 L190.6 508.1 L192.6 496.8 L201.6 437.6 L203.6 428.4 L204.6 424.9 L205.6 422.8 L207.6 420.2 L208.6 419.6 L209.6 419.5 L211.6 420.5 L213.6 422.3 L217.6 430.3 L223.6 443 L227.6 449.3 L228.6 450.4 L230.6 451.7 L231.6 452.1 L232.6 452.2 L234.6 451.5 L249.6 440.9 L265.6 432.4 L280.6 421.3 L282.6 420.3 L287.6 419.9 L287.6 537 ZM311.6 537 L311.6 418.3 L315.6 419 L316.6 419.8 L316.6 537 Z" fill="#EE7A4C"/>
<path d="M227.6 537 L227.6 452.1 L228.6 453.2 L230.6 454.5 L231.6 454.9 L232.6 455 L234.6 454.3 L249.6 443.7 L265.6 435.2 L280.6 424.1 L281.6 421.7 L283.6 421.2 L286.6 421 L287.6 419.9 L310.6 418.2 L311.6 418.3 L312.6 419 L317.6 420.1 L318.6 421.1 L321.6 422.9 L338.6 439.4 L340.6 441 L342.6 441.7 L354.6 448.5 L367.6 451.4 L369.6 452.4 L372.6 455.3 L377.6 463.8 L377.6 537 ZM379.6 537 L379.6 468 L398.6 516.1 L399.6 518 L399.6 537 Z" fill="#2E7A89"/>
<path d="M227.6 537 L227.6 452.1 L228.6 455.5 L232.6 457.1 L233.6 457.2 L235.6 456.8 L248.6 451.4 L265.6 447.7 L277.6 441.7 L310.6 439.2 L319.6 441 L330.6 446.2 L341.6 452.1 L350.6 454.3 L354.6 454.4 L365.6 451.8 L367.6 451.8 L369.6 452.7 L371.6 454.2 L374.6 458.5 L376.6 462.2 L376.6 537 Z" fill="#1D3B58"/>
<path d="M195.6 537 L195.6 488.3 L196.6 470.9 L198.6 457.4 L202.6 435.4 L204.6 427.7 L205.6 425.6 L207.6 423 L208.6 422.4 L209.6 422.3 L211.6 423.3 L213.6 425.1 L217.6 433.1 L223.6 445.8 L227.6 452.1 L228.6 456.3 L232.6 458.2 L235.6 458.9 L237.6 458.5 L241.6 456.5 L251.6 454.9 L277.6 454.8 L283.6 456.5 L311.6 475.1 L329.6 482.5 L333.6 483.1 L343.6 482.1 L349.6 479.9 L355.6 474.9 L356.6 473.5 L356.6 537 ZM364.6 537 L364.6 463.3 L367.6 460.1 L368.6 459.3 L369.6 458.9 L373.6 459.2 L374.6 459.5 L375.6 460.7 L377.6 463.8 L379.6 468.1 L380.6 471.8 L380.6 537 Z" fill="#8A2735"/>
<path d="M64.6 537 L64.6 516 L68.6 442.9 L69.6 428 L73.6 325.8 L74.6 312 L75.6 305.3 L76.6 305.9 L77.6 311.7 L78.6 323.7 L84.6 418 L86.6 456.5 L88.6 479.7 L90.6 495.2 L93.6 511.6 L94.6 515.7 L96.6 521.1 L98.6 525.1 L102.6 530.3 L105.6 532.8 L111.6 535.1 L140.6 536.9 L140.6 537 ZM157.6 537 L157.6 536.9 L166.6 536.4 L176.6 533.4 L179.6 531.7 L182.6 528.9 L187.6 521.9 L188.6 519.9 L189.6 517.4 L192.6 505.4 L197.6 477 L199.6 467.9 L204.6 438.7 L205.6 434.2 L206.6 431 L207.6 428.7 L208.6 427.6 L209.6 427.5 L210.6 428.6 L213.6 434.2 L220.6 450.2 L227.6 461.9 L230.6 465.4 L233.6 467.7 L237.6 469.6 L248.6 470 L254.6 471.9 L260.6 475 L296.6 481.8 L301.6 483.6 L307.6 487.6 L329.6 494.2 L329.6 537 Z" fill="#6BA898"/>
<path d="M206.6 537 L206.6 536.9 L241.6 533.2 L252.6 529.4 L259.6 525.2 L265.6 519.7 L282.6 499.6 L285.6 496.9 L290.6 494 L298.6 492.3 L332.6 494.3 L339.6 492 L345.6 487.7 L353.6 478.1 L362.6 465.2 L366.6 461.8 L368.6 460.7 L373.6 460.8 L374.6 461.1 L375.6 462.2 L378.6 467.3 L391.6 499.4 L396.6 512.4 L398.6 516.4 L400.6 519.2 L405.6 523.5 L414.6 528.5 L462.6 534.2 L462.6 537 Z" fill="#E99C61"/>
<path d="M64.6 516 L68.6 442.9 L69.6 428 L73.6 325.8 L74.6 312 L75.6 305.3 L76.6 305.9 L77.6 311.7 L78.6 323.7 L84.6 418 L86.6 456.5 L88.6 479.7 L90.6 495.2 L93.6 511.6 L94.6 515.7 L96.6 521.1 L98.6 525.1 L102.6 530.3 L105.6 532.8 L111.6 535.1 L165.6 536.5 L176.6 533.4 L179.6 531.7 L182.6 528.9 L184.6 526 L186.6 521.9 L188.6 516.3 L190.6 508.1 L192.6 496.8 L201.6 437.6 L203.6 428.4 L204.6 424.9 L205.6 422.8 L207.6 420.2 L208.6 419.6 L209.6 419.5 L211.6 420.5 L213.6 422.3 L217.6 430.3 L223.6 443 L227.6 449.3 L228.6 450.4 L230.6 451.7 L231.6 452.1 L232.6 452.2 L234.6 451.5 L249.6 440.9 L265.6 432.4 L280.6 421.3 L282.6 420.3 L310.6 418.2 L318.6 419.8 L321.6 421.6 L338.6 438.1 L343.6 441.9 L345.6 442.7 L351.6 442.9 L352.6 442.7 L354.6 441.2 L358.6 436.8 L372.6 415 L374.6 412.8 L379.6 410.3 L382.6 409.7 L384.6 409.9 L390.6 413.1 L392.6 414.9 L398.6 423.4 L403.6 433.7 L427.6 497.2 L433.6 509.2 L438.6 516.5 L447.6 525.5 L451.6 528.2 L461.6 531.9 L462.6 532.1" fill="none" stroke="#777" stroke-width="1.3"/>
</g>
<g>
<path d="M334.6 667 L334.6 593.5 L462.6 593.5 L462.6 667 Z" fill="#E84A2F"/>
<path d="M139.6 667 L139.6 593.5 L283.6 593.5 L283.6 667 Z" fill="#EE7A4C"/>
<path d="M221.6 667 L221.6 595.5 L275.6 595.5 L276.6 594.5 L282.6 594.5 L283.6 593.5 L334.6 593.5 L335.6 594.1 L347.6 597.4 L355.6 601.7 L361.6 607 L377.6 629.2 L377.6 667 Z" fill="#2E7A89"/>
<path d="M149.6 667 L149.6 595 L150.6 594.3 L199.6 594.3 L200.6 595.5 L221.6 595.5 L223.6 596.6 L295.6 606.4 L318.6 606.1 L338.6 602.1 L350.6 602.5 L353.6 603.4 L361.6 608.3 L365.6 612 L371.6 620.5 L372.6 623.3 L372.6 667 Z" fill="#1D3B58"/>
<path d="M149.6 667 L149.6 595 L150.6 594.6 L159.6 594.6 L160.6 594.9 L208.6 596.3 L233.6 600.8 L306.6 629.4 L320.6 631.8 L323.6 631.6 L340.6 625.1 L356.6 615.6 L360.6 614.7 L362.6 614.7 L367.6 617.8 L369.6 619.6 L372.6 623.3 L372.6 667 Z" fill="#8A2735"/>
<path d="M64.6 667 L64.6 593.5 L139.6 593.5 L140.6 594.2 L212.6 599.4 L220.6 601.6 L280.6 631.9 L308.6 638.7 L316.6 639.1 L316.6 667 Z" fill="#6BA898"/>
<path d="M201.6 667 L201.6 666.9 L245.6 662 L258.6 657.8 L284.6 642.9 L292.6 640.5 L327.6 638.2 L333.6 636.6 L342.6 631.4 L351.6 623 L357.6 618.6 L359.6 617.7 L365.6 617.3 L366.6 617.6 L368.6 619.1 L379.6 631.9 L394.6 650 L397.6 652.6 L403.6 655.9 L414.6 658 L427.6 656.5 L433.6 654 L440.6 649.4 L462.6 627.4 L462.6 667 Z" fill="#E99C61"/>
</g>
<g>
<path d="M643.8 537 L643.8 526.2 L645.8 521.7 L647.8 515.8 L649.8 507.5 L651.8 496.8 L660.8 434.3 L661.8 428.4 L663.8 420.1 L664.8 417.3 L666.8 414.1 L667.8 413 L668.8 412.6 L670.8 413.1 L672.8 414.1 L673.8 415.1 L676.8 419.6 L687.8 441.3 L691.8 447.1 L696.8 451.7 L698.8 452.8 L704.8 453.5 L706.8 453.2 L711.8 450.3 L731.8 431.5 L740.8 426.3 L742.8 426 L757.8 427.5 L771.8 422 L778.8 420.8 L779.8 420.8 L779.8 537 Z" fill="#2E7A89"/>
<path d="M643.8 537 L643.8 526.2 L644.8 527.9 L648.8 516.9 L655.8 489.7 L657.8 482.5 L663.8 447 L665.8 437.5 L666.8 433.8 L667.8 431.4 L668.8 429.7 L669.8 428.9 L670.8 429.4 L671.8 430.5 L673.8 434 L683.8 456.2 L688.8 464.3 L692.8 468.6 L694.8 470.1 L700.8 472.2 L706.8 472.2 L713.8 470.7 L718.8 468.4 L733.8 456.8 L737.8 453.2 L763.8 433.3 L771.8 425.4 L779.8 420.8 L782.8 421.4 L787.8 423.6 L799.8 434 L806.8 437.6 L808.8 438.1 L810.8 437.9 L814.8 436.2 L816.8 434.8 L819.8 432.1 L823.8 429.5 L825.8 428.8 L828.8 429.1 L830.8 429.7 L831.8 430.6 L834.8 435.4 L835.8 437.5 L835.8 537 Z" fill="#1C2546"/>
<path d="M732.8 537 L732.8 472.8 L734.8 470.8 L736.8 467.8 L739.8 462.4 L743.8 457.8 L748.8 454.2 L759.8 449.7 L773.8 449.4 L797.8 455.6 L803.8 455.5 L807.8 454.7 L809.8 453.5 L813.8 449.4 L822.8 437.6 L826.8 434 L827.8 433.5 L831.8 433.1 L832.8 433.6 L834.8 435.9 L835.8 437.5 L843.8 453.2 L847.8 458.5 L848.8 459.2 L849.8 459.4 L851.8 458.6 L853.8 457 L855.8 453.2 L861.8 438.6 L864.8 433.4 L866.8 431 L869.8 429.3 L871.8 428.8 L872.8 429 L876.8 432 L881.8 439.2 L890.8 455 L894.8 460.3 L896.8 462.1 L900.8 464.3 L902.8 464.6 L907.8 463.3 L917.8 456.4 L922.8 454.6 L925.8 454.5 L930.8 455.9 L932.8 457.3 L935.8 460.4 L940.8 468.6 L940.8 537 Z" fill="#E99C61"/>
<path d="M671.8 537 L671.8 433.1 L673.8 435.7 L682.8 455.8 L692.8 472 L697.8 477.4 L700.8 479.6 L705.8 482.1 L707.8 482.6 L716.8 482.7 L719.8 481.8 L725.8 478.6 L732.8 472.8 L733.8 472.3 L734.8 472.5 L735.8 472.3 L736.8 471.4 L739.8 467.6 L743.8 465 L749.8 463.3 L752.8 463.3 L757.8 465.4 L763.8 471.7 L780.8 494.3 L784.8 498.2 L788.8 500.6 L794.8 501.8 L796.8 501.9 L798.8 501.2 L802.8 498.8 L807.8 493.5 L812.8 486 L820.8 470.5 L822.8 467.5 L825.8 464.6 L827.8 463.3 L828.8 463.2 L829.8 463.5 L831.8 464.8 L835.8 473.7 L850.8 517.4 L853.8 523.5 L856.8 527.9 L859.8 530.7 L865.8 533.8 L896.8 536.9 L896.8 537 Z" fill="#EC6640"/>
<path d="M643.8 537 L643.8 526.2 L644.8 528.1 L648.8 517.2 L655.8 490.1 L657.8 483 L662.8 452.9 L665.8 439 L667.8 433.6 L668.8 432 L669.8 431.2 L670.8 431.7 L673.8 436.4 L676.8 443.1 L683.8 461 L684.8 463.1 L684.8 537 ZM702.8 537 L702.8 484.5 L711.8 489.8 L711.8 537 ZM722.8 537 L722.8 495.3 L739.8 503.3 L750.8 506.2 L759.8 511.3 L766.8 517.2 L777.8 527.9 L784.8 532.1 L855.8 536.9 L855.8 537 Z" fill="#E8432B"/>
<path d="M542.8 537 L542.8 514.7 L545.8 451.9 L546.8 435.8 L547.8 414.9 L550.8 326.6 L551.8 311.5 L552.8 304.8 L553.8 307.3 L554.8 315.6 L560.8 419 L562.8 460.5 L563.8 473.8 L565.8 492.6 L568.8 511.4 L569.8 515.9 L571.8 521.8 L573.8 525.9 L576.8 530.1 L578.8 532.2 L582.8 534.3 L598.8 536.8 L629.8 535.6 L637.8 533.3 L639.8 532.1 L640.8 531.2 L643.8 526.2 L644.8 528.9 L649.8 514.7 L657.8 484.4 L658.8 480 L660.8 467.9 L662.8 457.3 L664.8 445.6 L665.8 442.3 L667.8 437.8 L668.8 436.6 L669.8 436.2 L670.8 436.8 L672.8 439.4 L685.8 464.8 L692.8 474.9 L702.8 484.5 L727.8 498.6 L740.8 509.6 L758.8 520.1 L774.8 531.6 L779.8 533.9 L799.8 537 L799.8 537 Z" fill="#6BA898"/>
<path d="M542.8 514.7 L545.8 451.9 L546.8 435.8 L547.8 414.9 L550.8 326.6 L551.8 311.5 L552.8 304.8 L553.8 307.3 L554.8 315.6 L560.8 419 L562.8 460.5 L563.8 473.8 L565.8 492.6 L568.8 511.4 L569.8 515.9 L571.8 521.8 L573.8 525.9 L576.8 530.1 L578.8 532.2 L582.8 534.3 L598.8 536.8 L629.8 535.6 L637.8 533.3 L639.8 532.1 L640.8 531.2 L643.8 526.2 L645.8 521.7 L647.8 515.8 L649.8 507.5 L651.8 496.8 L660.8 434.3 L661.8 428.4 L663.8 420.1 L664.8 417.3 L666.8 414.1 L667.8 413 L668.8 412.6 L670.8 413.1 L672.8 414.1 L673.8 415.1 L676.8 419.6 L687.8 441.3 L691.8 447.1 L696.8 451.7 L698.8 452.8 L704.8 453.5 L706.8 453.2 L711.8 450.3 L731.8 431.5 L740.8 426.3 L742.8 426 L757.8 427.5 L771.8 422 L778.8 420.8 L781.8 421.1 L787.8 423.6 L799.8 434 L806.8 437.6 L808.8 438.1 L810.8 437.9 L814.8 436.2 L816.8 434.8 L819.8 432.1 L823.8 429.5 L825.8 428.8 L828.8 429.1 L830.8 429.7 L831.8 430.6 L834.8 435.4 L843.8 453.2 L847.8 458.5 L848.8 459.2 L849.8 459.4 L851.8 458.6 L853.8 457 L855.8 453.2 L861.8 438.6 L864.8 433.4 L866.8 431 L869.8 429.3 L871.8 428.8 L872.8 429 L876.8 432 L881.8 439.2 L890.8 455 L894.8 460.3 L896.8 462.1 L900.8 464.3 L902.8 464.6 L907.8 463.3 L917.8 456.4 L922.8 454.6 L925.8 454.5 L930.8 455.9 L932.8 457.3 L935.8 460.4 L940.8 468.6" fill="none" stroke="#777" stroke-width="1.3"/>
</g>
<g>
<path d="M560.8 667 L560.8 593.5 L940.8 593.5 L940.8 667 Z" fill="#2E7A89"/>
<path d="M543.8 667 L543.8 593.5 L654.8 601.3 L719.8 614 L728.8 614 L740.8 611.1 L750.8 605.2 L759.8 599.9 L771.8 596.2 L845.8 595.2 L845.8 667 Z" fill="#1C2546"/>
<path d="M734.8 667 L734.8 622.6 L739.8 619.1 L757.8 610.1 L759.8 609.8 L795.8 611.5 L808.8 607 L826.8 598 L845.8 595.2 L940.8 594.7 L940.8 667 Z" fill="#E99C61"/>
<path d="M699.8 667 L699.8 618.5 L700.8 618 L720.8 625.1 L727.8 624.9 L733.8 623.1 L737.8 621.2 L748.8 618.2 L751.8 618.5 L755.8 619.9 L757.8 621.4 L773.8 638.6 L777.8 641.7 L783.8 644.4 L786.8 645 L795.8 643.9 L797.8 643 L804.8 636.9 L816.8 622.3 L819.8 619.7 L825.8 617.5 L829.8 617 L835.8 618.3 L836.8 618.8 L838.8 620.8 L842.8 626.4 L854.8 650.5 L858.8 657.1 L862.8 661.6 L865.8 663.9 L884.8 667 L884.8 667 Z" fill="#EC6640"/>
<path d="M638.8 667 L638.8 600 L656.8 602.9 L679.8 608.3 L693.8 613.7 L697.8 616.4 L702.8 621.9 L712.8 630 L719.8 636.5 L730.8 643.2 L735.8 645 L745.8 646.8 L762.8 654.9 L776.8 663.2 L799.8 667 L799.8 667 Z" fill="#E8432B"/>
<path d="M542.8 667 L542.8 593.6 L649.8 601.8 L681.8 612.5 L703.8 625.3 L719.8 640.2 L734.8 648.5 L753.8 653.5 L775.8 664 L793.8 666.9 L793.8 667 Z" fill="#6BA898"/>
</g>
<g>
<path d="M1198 537 L1198 449.5 L1201 455.2 L1206 461.8 L1219 472.5 L1225 475.9 L1232 477.6 L1234 477.7 L1236 477.1 L1239 475.5 L1241 473.6 L1246 466.5 L1259 441.7 L1262 438 L1264 436.1 L1266 435 L1270 433.9 L1272 433.9 L1277 436.3 L1294 453.1 L1307 469 L1330 500.3 L1343 514.8 L1352 522 L1375 531.3 L1419 535.8 L1419 537 Z" fill="#E84A2F"/>
<path d="M1197 537 L1197 447.4 L1198 449.5 L1199 452.6 L1202 457.7 L1203 462.7 L1204 464 L1207 465.7 L1228 483.8 L1233 488.7 L1238 492.6 L1240 493.4 L1245 493 L1246 492.7 L1247 492 L1257 479.1 L1263 473.9 L1269 470.8 L1271 470.4 L1277 471.5 L1288 477.4 L1306 487.6 L1336 514.9 L1353 524.3 L1378 533.2 L1419 536.2 L1419 537 Z" fill="#E99C61"/>
<path d="M1137 537 L1137 535.2 L1144 532.9 L1148 530.1 L1151 527.1 L1154 522.7 L1156 518.2 L1159 508.3 L1162 492.9 L1168 453.1 L1170 443.2 L1172 435.8 L1174 430.6 L1175 428.5 L1176 427 L1178 425.6 L1180 424.8 L1182 424.5 L1183 424.8 L1186 427.2 L1187 428.3 L1197 447.4 L1198 452 L1202 460.9 L1237 513.5 L1244 522.3 L1251 528 L1263 534.2 L1279 536.9 L1279 537 Z" fill="#1D3B58"/>
<path d="M1021 537 L1021 537 L1024 474.5 L1026 442.7 L1027 429.7 L1029 387.9 L1031 336.9 L1032 319.8 L1033 310.1 L1034 304.9 L1035 306 L1036 311.1 L1037 320.9 L1044 418.5 L1046 453.7 L1048 475.8 L1050 490.8 L1053 506.9 L1055 515 L1057 520.2 L1059 524 L1063 529.1 L1066 531.8 L1070 533.8 L1088 536.8 L1146 534.3 L1151 533.1 L1155 531.1 L1158 528.9 L1161 525.6 L1165 519.7 L1175 500.2 L1176 498.8 L1179 495.9 L1181 494.7 L1189 495.6 L1217 506.2 L1230 515.2 L1236 520.8 L1238 521.7 L1240 522.3 L1242 523.7 L1250 530.6 L1256 534 L1274 536.9 L1274 537 Z" fill="#6BA898"/>
<path d="M1021 537 L1024 474.5 L1026 442.7 L1027 429.7 L1029 387.9 L1031 336.9 L1032 319.8 L1033 310.1 L1034 304.9 L1035 306 L1036 311.1 L1037 320.9 L1044 418.5 L1046 453.7 L1048 475.8 L1050 490.8 L1053 506.9 L1055 515 L1057 520.2 L1059 524 L1063 529.1 L1066 531.8 L1070 533.8 L1088 536.8 L1137 535.2 L1144 532.9 L1148 530.1 L1151 527.1 L1154 522.7 L1156 518.2 L1159 508.3 L1162 492.9 L1168 453.1 L1170 443.2 L1172 435.8 L1174 430.6 L1175 428.5 L1176 427 L1178 425.6 L1180 424.8 L1182 424.5 L1183 424.8 L1186 427.2 L1187 428.3 L1201 455.2 L1206 461.8 L1219 472.5 L1225 475.9 L1232 477.6 L1234 477.7 L1236 477.1 L1239 475.5 L1241 473.6 L1246 466.5 L1259 441.7 L1262 438 L1264 436.1 L1266 435 L1270 433.9 L1272 433.9 L1277 436.3 L1294 453.1 L1307 469 L1330 500.3 L1343 514.8 L1352 522 L1375 531.3 L1419 535.8" fill="none" stroke="#777" stroke-width="1.3"/>
</g>
<g>
<path d="M1069 667 L1069 593.5 L1419 593.5 L1419 667 Z" fill="#E84A2F"/>
<path d="M1155 667 L1155 594.9 L1203 596.5 L1216 599.7 L1223 602.9 L1244 618.1 L1247 619.5 L1256 620.9 L1293 617.8 L1303 614.8 L1322 606.2 L1337 602.9 L1419 602.9 L1419 667 Z" fill="#E99C61"/>
<path d="M1021 667 L1021 593.5 L1188 597.7 L1207 601.8 L1212 604 L1217 607.8 L1224 616.3 L1230 626.2 L1240 647.3 L1244 653.7 L1248 658.2 L1254 662.5 L1262 665.7 L1266 666.5 L1266 667 Z" fill="#1D3B58"/>
<path d="M1021 667 L1021 594 L1096 596 L1115 602.1 L1135 613.1 L1164 634.7 L1170 637.8 L1180 639.2 L1184 638.7 L1206 633.7 L1217 633.2 L1220 633.9 L1224 635.8 L1242 655.5 L1254 663.3 L1262 666 L1269 666.9 L1269 667 Z" fill="#6BA898"/>
</g>
<g fill="none" stroke="#797979" stroke-width="1.55">
<rect x="64.6" y="293" width="398.4" height="244"/>
<rect x="64.6" y="593.5" width="398.4" height="73.5"/>
<line x1="64.6" y1="667" x2="64.6" y2="674"/>
<line x1="197.4" y1="667" x2="197.4" y2="674"/>
<line x1="330.2" y1="667" x2="330.2" y2="674"/>
<line x1="463" y1="667" x2="463" y2="674"/>
<rect x="542.8" y="293" width="398.8" height="244"/>
<rect x="542.8" y="593.5" width="398.8" height="73.5"/>
<line x1="542.8" y1="667" x2="542.8" y2="674"/>
<line x1="642.5" y1="667" x2="642.5" y2="674"/>
<line x1="742.2" y1="667" x2="742.2" y2="674"/>
<line x1="841.9" y1="667" x2="841.9" y2="674"/>
<line x1="941.6" y1="667" x2="941.6" y2="674"/>
<rect x="1021" y="293" width="398.2" height="244"/>
<rect x="1021" y="593.5" width="398.2" height="73.5"/>
<line x1="1021" y1="667" x2="1021" y2="674"/>
<line x1="1120.5" y1="667" x2="1120.5" y2="674"/>
<line x1="1220.1" y1="667" x2="1220.1" y2="674"/>
<line x1="1319.7" y1="667" x2="1319.7" y2="674"/>
<line x1="1419.2" y1="667" x2="1419.2" y2="674"/>
<line x1="57.6" y1="537" x2="64.6" y2="537"/>
<line x1="57.6" y1="460.8" x2="64.6" y2="460.8"/>
<line x1="57.6" y1="384.6" x2="64.6" y2="384.6"/>
<line x1="57.6" y1="308.4" x2="64.6" y2="308.4"/>
<line x1="57.6" y1="593.5" x2="64.6" y2="593.5"/>
<line x1="57.6" y1="667" x2="64.6" y2="667"/>
</g>
<g fill="#808080">
<text transform="translate(52 549.6) scale(1.0 1.06)" font-family="DejaVu Sans, sans-serif" font-size="33" text-anchor="end">0.0</text>
<text transform="translate(52 473.4) scale(1.0 1.06)" font-family="DejaVu Sans, sans-serif" font-size="33" text-anchor="end">0.1</text>
<text transform="translate(52 397.2) scale(1.0 1.06)" font-family="DejaVu Sans, sans-serif" font-size="33" text-anchor="end">0.2</text>
<text transform="translate(52 321) scale(1.0 1.06)" font-family="DejaVu Sans, sans-serif" font-size="33" text-anchor="end">0.3</text>
<text transform="translate(52 606.1) scale(1.0 1.06)" font-family="DejaVu Sans, sans-serif" font-size="33" text-anchor="end">1.0</text>
<text transform="translate(52 679.6) scale(1.0 1.06)" font-family="DejaVu Sans, sans-serif" font-size="33" text-anchor="end">0.0</text>
<text transform="translate(64.6 706.5) scale(1.0 1.06)" font-family="DejaVu Sans, sans-serif" font-size="33" text-anchor="middle">0</text>
<text transform="translate(197.4 706.5) scale(1.0 1.06)" font-family="DejaVu Sans, sans-serif" font-size="33" text-anchor="middle">300</text>
<text transform="translate(330.2 706.5) scale(1.0 1.06)" font-family="DejaVu Sans, sans-serif" font-size="33" text-anchor="middle">600</text>
<text transform="translate(463 706.5) scale(1.0 1.06)" font-family="DejaVu Sans, sans-serif" font-size="33" text-anchor="middle">900</text>
<text transform="translate(263.8 751) scale(1.0 1.06)" font-family="DejaVu Sans, sans-serif" font-size="38" text-anchor="middle" font-style="italic">t</text>
<text transform="translate(542.8 706.5) scale(1.0 1.06)" font-family="DejaVu Sans, sans-serif" font-size="33" text-anchor="middle">0</text>
<text transform="translate(642.5 706.5) scale(1.0 1.06)" font-family="DejaVu Sans, sans-serif" font-size="33" text-anchor="middle">250</text>
<text transform="translate(742.2 706.5) scale(1.0 1.06)" font-family="DejaVu Sans, sans-serif" font-size="33" text-anchor="middle">500</text>
<text transform="translate(841.9 706.5) scale(1.0 1.06)" font-family="DejaVu Sans, sans-serif" font-size="33" text-anchor="middle">750</text>
<text transform="translate(941.6 706.5) scale(1.0 1.06)" font-family="DejaVu Sans, sans-serif" font-size="33" text-anchor="middle">1000</text>
<text transform="translate(742.2 751) scale(1.0 1.06)" font-family="DejaVu Sans, sans-serif" font-size="38" text-anchor="middle" font-style="italic">t</text>
<text transform="translate(1021 706.5) scale(1.0 1.06)" font-family="DejaVu Sans, sans-serif" font-size="33" text-anchor="middle">0</text>
<text transform="translate(1120.5 706.5) scale(1.0 1.06)" font-family="DejaVu Sans, sans-serif" font-size="33" text-anchor="middle">200</text>
<text transform="translate(1220.1 706.5) scale(1.0 1.06)" font-family="DejaVu Sans, sans-serif" font-size="33" text-anchor="middle">400</text>
<text transform="translate(1319.7 706.5) scale(1.0 1.06)" font-family="DejaVu Sans, sans-serif" font-size="33" text-anchor="middle">600</text>
<text transform="translate(1419.2 706.5) scale(1.0 1.06)" font-family="DejaVu Sans, sans-serif" font-size="33" text-anchor="middle">800</text>
<text transform="translate(1220.1 751) scale(1.0 1.06)" font-family="DejaVu Sans, sans-serif" font-size="38" text-anchor="middle" font-style="italic">t</text>
<text transform="translate(64.7 284.5) scale(1 1.03)" font-family="DejaVu Sans, sans-serif" font-size="37"><tspan font-style="italic">I</tspan>(<tspan font-style="italic">t</tspan>)</text>
<text transform="translate(64.5 579.8) scale(1 1.03)" font-family="DejaVu Sans, sans-serif" font-size="37"><tspan font-style="italic">I</tspan><tspan font-size="26" dy="-12.8" dx="2.6" font-style="italic">rel</tspan><tspan dy="12.8" dx="1.2">(</tspan><tspan font-style="italic">t</tspan>)</text>
<text transform="translate(0.4 28.8) scale(0.95 1.05)" font-family="Liberation Sans, Arial, sans-serif" font-size="37" text-anchor="start">(a)</text>
<text transform="translate(484.4 29.3) scale(0.95 1.05)" font-family="Liberation Sans, Arial, sans-serif" font-size="37" text-anchor="start">(c)</text>
<text transform="translate(968.5 29.3) scale(0.95 1.05)" font-family="Liberation Sans, Arial, sans-serif" font-size="37" text-anchor="start">(e)</text>
<text transform="translate(0 262.2) scale(0.95 1.05)" font-family="Liberation Sans, Arial, sans-serif" font-size="37" text-anchor="start">(b)</text>
<text transform="translate(484.4 261.9) scale(0.95 1.05)" font-family="Liberation Sans, Arial, sans-serif" font-size="37" text-anchor="start">(d)</text>
<text transform="translate(968.5 261.9) scale(0.95 1.05)" font-family="Liberation Sans, Arial, sans-serif" font-size="37" text-anchor="start">(f)</text>
</g>
</svg></body></html>
